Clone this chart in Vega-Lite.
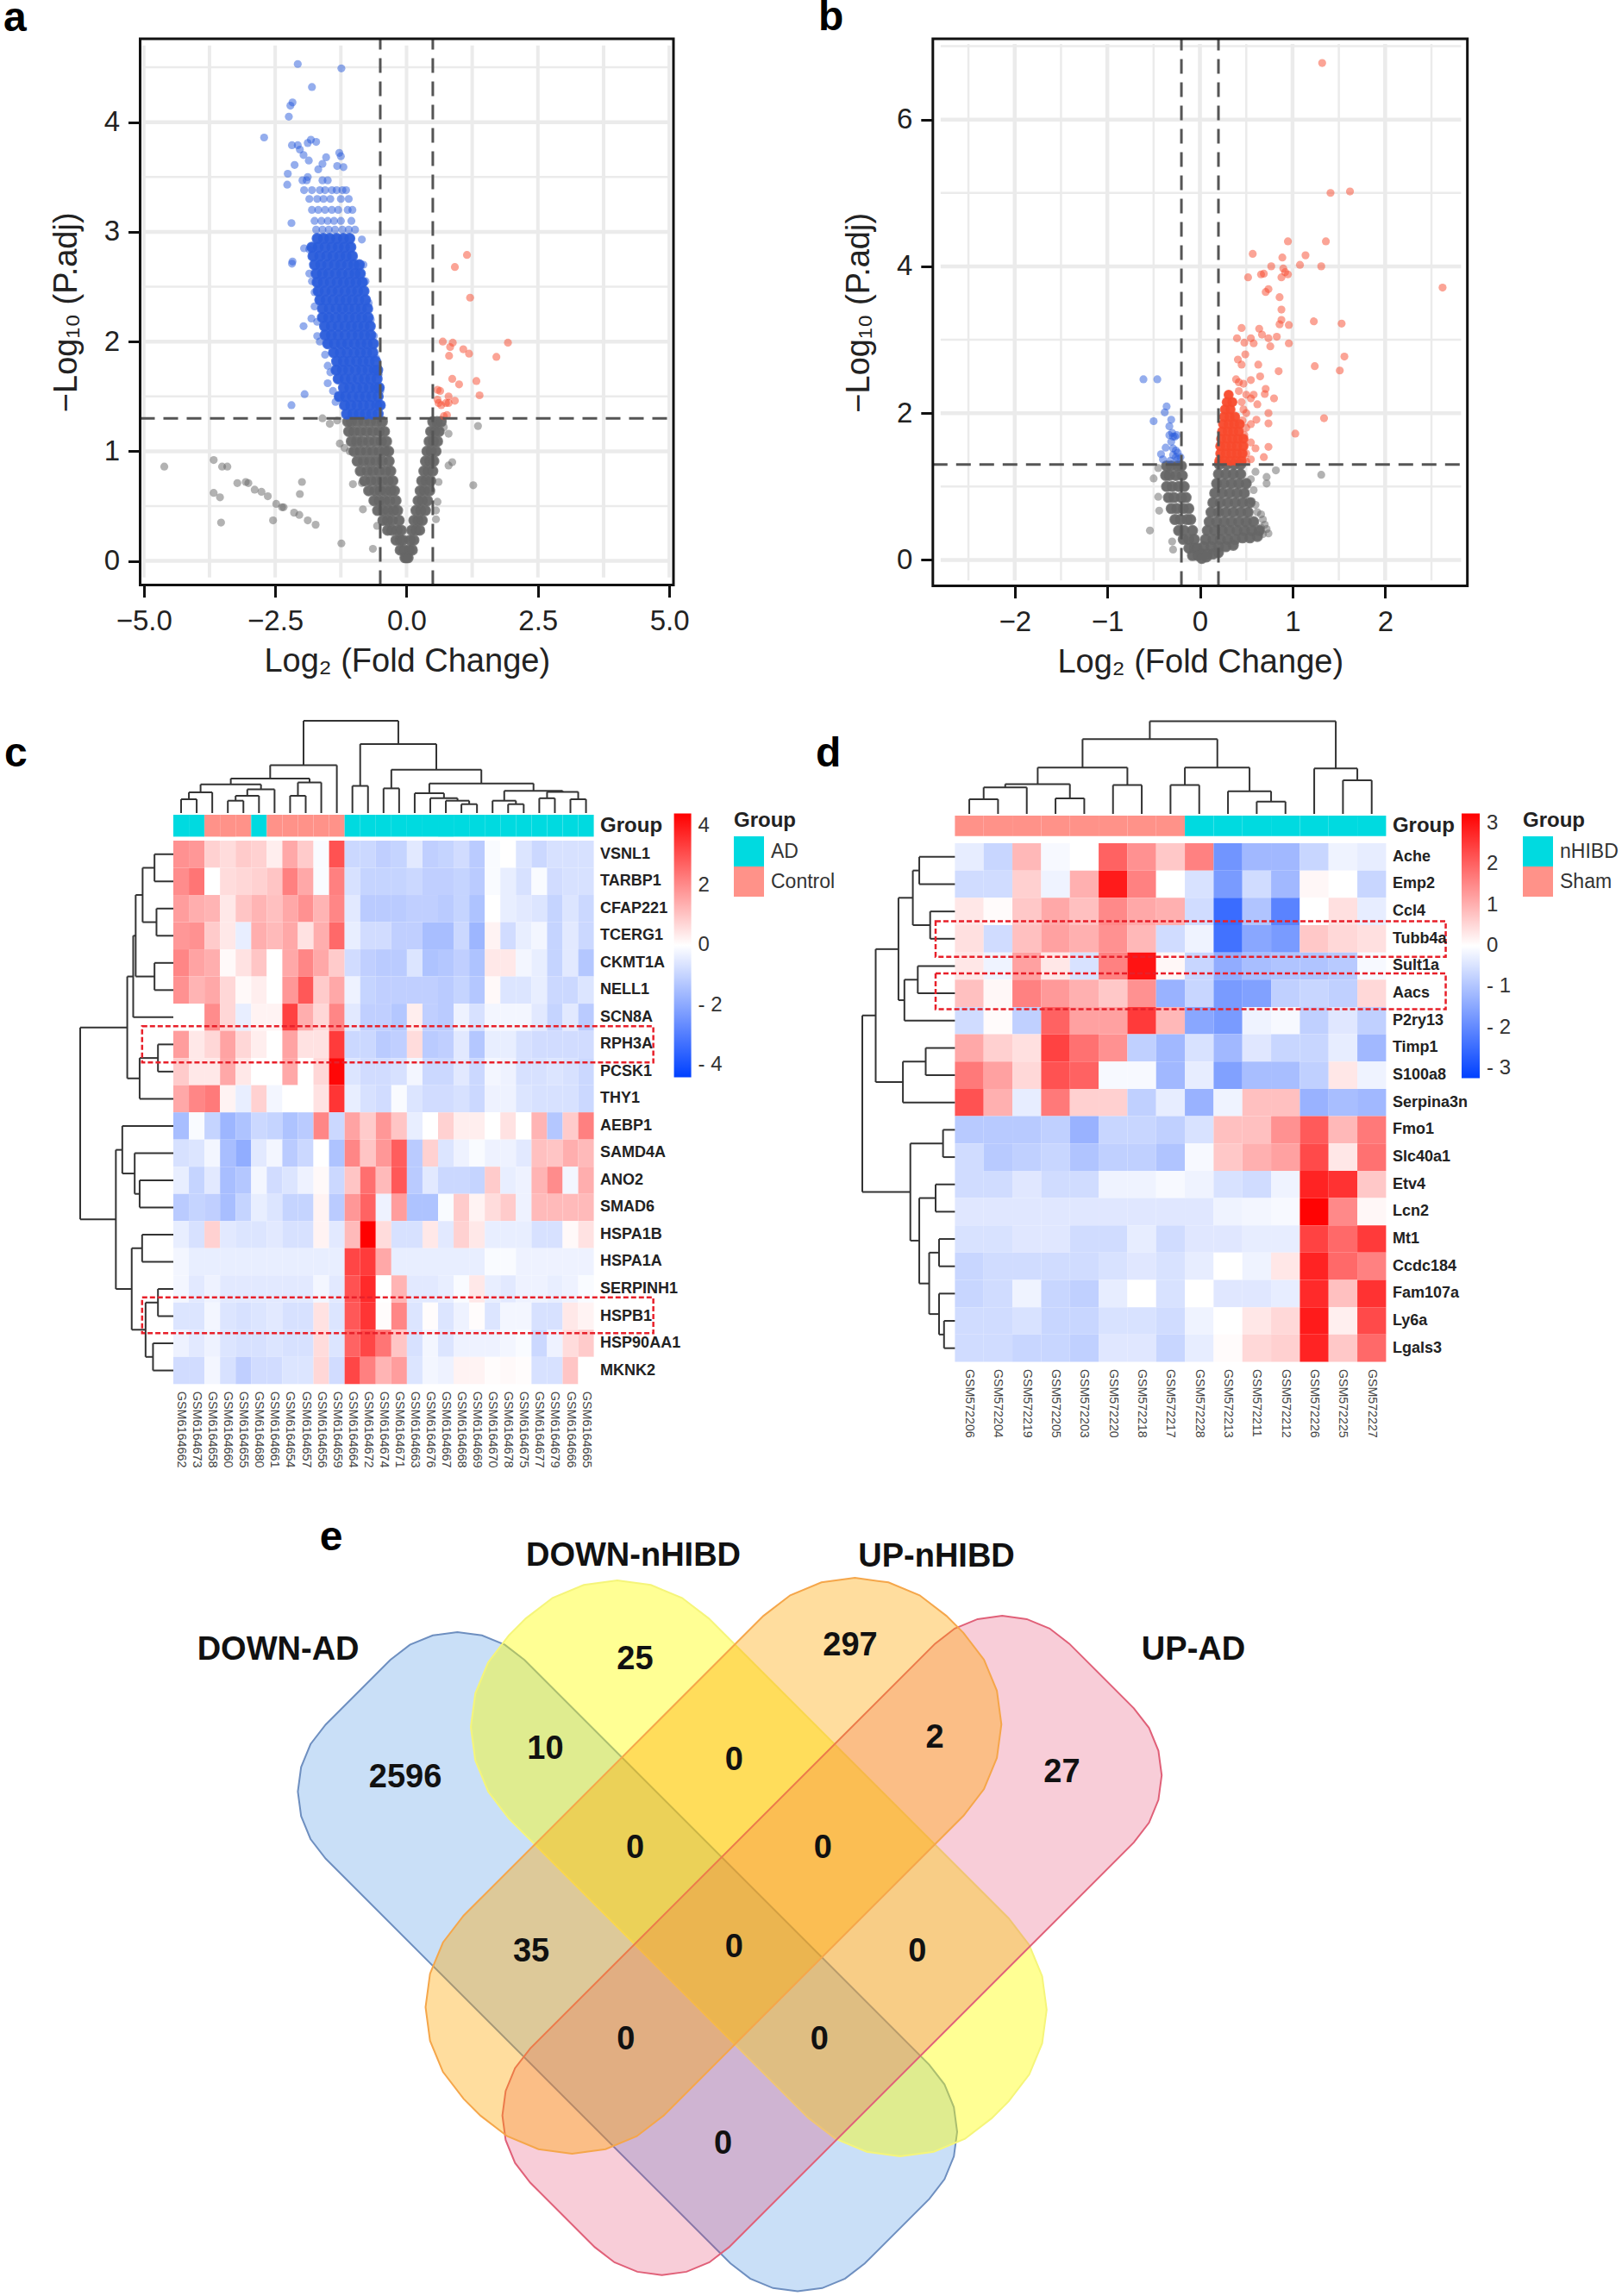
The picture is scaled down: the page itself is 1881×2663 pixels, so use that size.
{"$schema":"https://vega.github.io/schema/vega-lite/v6.json","width":1881,"height":2663,"autosize":{"type":"none"},"padding":0,"background":"white","config":{"view":{"stroke":null},"font":"Liberation Sans","axis":{"grid":false}},
"datasets":{
"a_down":[{"x":-2.07,"y":4.53},{"x":-1.24,"y":4.49},{"x":-1.8,"y":4.32},{"x":-2.17,"y":4.18},{"x":-2.21,"y":4.15},{"x":-2.24,"y":4.05},{"x":-2.71,"y":3.86},{"x":-2.18,"y":3.79},{"x":-2.07,"y":3.79},{"x":-1.88,"y":3.81},{"x":-1.82,"y":3.84},{"x":-1.72,"y":3.82},{"x":-2.03,"y":3.75},{"x":-1.96,"y":3.7},{"x":-1.86,"y":3.65},{"x":-1.28,"y":3.72},{"x":-1.25,"y":3.69},{"x":-1.53,"y":3.68},{"x":-1.6,"y":3.62},{"x":-1.68,"y":3.57},{"x":-1.32,"y":3.6},{"x":-1.2,"y":3.59},{"x":-2.13,"y":3.61},{"x":-2.26,"y":3.53},{"x":-2.27,"y":3.43},{"x":-2.19,"y":3.08},{"x":-2.17,"y":2.73},{"x":-2.18,"y":2.71},{"x":-1.96,"y":2.14},{"x":-1.81,"y":2.21},{"x":-1.94,"y":1.52},{"x":-2.19,"y":1.42},{"x":-1.72,"y":3.02},{"x":-1.6,"y":3.02},{"x":-1.48,"y":3.02},{"x":-1.36,"y":3.02},{"x":-1.22,"y":3.02},{"x":-1.1,"y":3.02},{"x":-0.98,"y":3.02},{"x":-1.75,"y":3.1},{"x":-1.62,"y":3.1},{"x":-1.5,"y":3.1},{"x":-1.38,"y":3.1},{"x":-1.25,"y":3.1},{"x":-1.05,"y":3.1},{"x":-1.8,"y":3.2},{"x":-1.68,"y":3.2},{"x":-1.55,"y":3.2},{"x":-1.42,"y":3.2},{"x":-1.3,"y":3.2},{"x":-1.12,"y":3.2},{"x":-1.03,"y":3.2},{"x":-1.85,"y":3.3},{"x":-1.7,"y":3.3},{"x":-1.58,"y":3.3},{"x":-1.45,"y":3.3},{"x":-1.25,"y":3.3},{"x":-1.1,"y":3.3},{"x":-1.95,"y":3.38},{"x":-1.8,"y":3.38},{"x":-1.65,"y":3.38},{"x":-1.55,"y":3.38},{"x":-1.42,"y":3.38},{"x":-1.33,"y":3.38},{"x":-1.22,"y":3.38},{"x":-1.15,"y":3.38},{"x":-1.98,"y":3.47},{"x":-1.9,"y":3.47},{"x":-1.88,"y":3.5},{"x":-1.6,"y":3.47},{"x":-1.5,"y":3.47},{"x":-1.95,"y":2.85},{"x":-1.85,"y":2.84},{"x":-1.85,"y":2.62},{"x":-1.8,"y":2.55},{"x":-1.75,"y":2.45},{"x":-1.75,"y":2.32},{"x":-1.7,"y":2.18},{"x":-1.7,"y":2.05},{"x":-1.65,"y":2},{"x":-1.55,"y":1.88},{"x":-1.5,"y":1.78},{"x":-1.5,"y":1.62},{"x":-1.45,"y":1.72},{"x":-1.4,"y":1.55},{"x":-1.35,"y":1.45},{"x":-0.85,"y":2.93},{"x":-0.82,"y":2.7},{"x":-0.78,"y":2.55},{"x":-0.72,"y":2.35},{"x":-0.68,"y":2.2},{"x":-0.62,"y":2.05},{"x":-0.58,"y":1.85},{"x":-0.53,"y":1.7},{"x":-0.5,"y":1.55}],
"a_core":[{"x":-1.14,"y":1.34},{"x":-1.02,"y":1.34},{"x":-0.9,"y":1.34},{"x":-0.78,"y":1.34},{"x":-0.66,"y":1.34},{"x":-0.54,"y":1.34},{"x":-1.18,"y":1.42},{"x":-1.06,"y":1.42},{"x":-0.94,"y":1.42},{"x":-0.82,"y":1.42},{"x":-0.7,"y":1.42},{"x":-0.57,"y":1.42},{"x":-0.5,"y":1.42},{"x":-1.28,"y":1.5},{"x":-1.16,"y":1.5},{"x":-1.03,"y":1.5},{"x":-0.9,"y":1.5},{"x":-0.78,"y":1.5},{"x":-0.66,"y":1.5},{"x":-0.54,"y":1.5},{"x":-1.2,"y":1.58},{"x":-1.08,"y":1.58},{"x":-0.95,"y":1.58},{"x":-0.83,"y":1.58},{"x":-0.71,"y":1.58},{"x":-0.59,"y":1.58},{"x":-0.52,"y":1.58},{"x":-1.3,"y":1.66},{"x":-1.17,"y":1.66},{"x":-1.05,"y":1.66},{"x":-0.92,"y":1.66},{"x":-0.8,"y":1.66},{"x":-0.68,"y":1.66},{"x":-0.56,"y":1.66},{"x":-1.34,"y":1.74},{"x":-1.22,"y":1.74},{"x":-1.1,"y":1.74},{"x":-0.97,"y":1.74},{"x":-0.85,"y":1.74},{"x":-0.73,"y":1.74},{"x":-0.61,"y":1.74},{"x":-0.55,"y":1.74},{"x":-1.33,"y":1.82},{"x":-1.2,"y":1.82},{"x":-1.08,"y":1.82},{"x":-0.95,"y":1.82},{"x":-0.83,"y":1.82},{"x":-0.71,"y":1.82},{"x":-0.59,"y":1.82},{"x":-1.39,"y":1.9},{"x":-1.26,"y":1.9},{"x":-1.13,"y":1.9},{"x":-1,"y":1.9},{"x":-0.88,"y":1.9},{"x":-0.76,"y":1.9},{"x":-0.64,"y":1.9},{"x":-1.5,"y":1.98},{"x":-1.37,"y":1.98},{"x":-1.24,"y":1.98},{"x":-1.12,"y":1.98},{"x":-0.99,"y":1.98},{"x":-0.87,"y":1.98},{"x":-0.75,"y":1.98},{"x":-0.63,"y":1.98},{"x":-1.55,"y":2.06},{"x":-1.43,"y":2.06},{"x":-1.3,"y":2.06},{"x":-1.17,"y":2.06},{"x":-1.04,"y":2.06},{"x":-0.92,"y":2.06},{"x":-0.8,"y":2.06},{"x":-0.68,"y":2.06},{"x":-1.56,"y":2.14},{"x":-1.43,"y":2.14},{"x":-1.3,"y":2.14},{"x":-1.17,"y":2.14},{"x":-1.05,"y":2.14},{"x":-0.93,"y":2.14},{"x":-0.81,"y":2.14},{"x":-0.69,"y":2.14},{"x":-1.6,"y":2.22},{"x":-1.48,"y":2.22},{"x":-1.35,"y":2.22},{"x":-1.22,"y":2.22},{"x":-1.09,"y":2.22},{"x":-0.97,"y":2.22},{"x":-0.85,"y":2.22},{"x":-0.73,"y":2.22},{"x":-1.6,"y":2.3},{"x":-1.47,"y":2.3},{"x":-1.34,"y":2.3},{"x":-1.22,"y":2.3},{"x":-1.1,"y":2.3},{"x":-0.98,"y":2.3},{"x":-0.86,"y":2.3},{"x":-0.74,"y":2.3},{"x":-1.65,"y":2.38},{"x":-1.53,"y":2.38},{"x":-1.4,"y":2.38},{"x":-1.27,"y":2.38},{"x":-1.15,"y":2.38},{"x":-1.03,"y":2.38},{"x":-0.91,"y":2.38},{"x":-0.78,"y":2.38},{"x":-1.68,"y":2.46},{"x":-1.55,"y":2.46},{"x":-1.42,"y":2.46},{"x":-1.3,"y":2.46},{"x":-1.17,"y":2.46},{"x":-1.05,"y":2.46},{"x":-0.93,"y":2.46},{"x":-0.81,"y":2.46},{"x":-1.7,"y":2.54},{"x":-1.58,"y":2.54},{"x":-1.45,"y":2.54},{"x":-1.32,"y":2.54},{"x":-1.2,"y":2.54},{"x":-1.08,"y":2.54},{"x":-0.96,"y":2.54},{"x":-0.84,"y":2.54},{"x":-1.72,"y":2.62},{"x":-1.6,"y":2.62},{"x":-1.48,"y":2.62},{"x":-1.35,"y":2.62},{"x":-1.23,"y":2.62},{"x":-1.1,"y":2.62},{"x":-0.98,"y":2.62},{"x":-0.88,"y":2.62},{"x":-1.75,"y":2.7},{"x":-1.63,"y":2.7},{"x":-1.5,"y":2.7},{"x":-1.37,"y":2.7},{"x":-1.25,"y":2.7},{"x":-1.12,"y":2.7},{"x":-1,"y":2.7},{"x":-0.9,"y":2.7},{"x":-1.78,"y":2.78},{"x":-1.65,"y":2.78},{"x":-1.52,"y":2.78},{"x":-1.4,"y":2.78},{"x":-1.27,"y":2.78},{"x":-1.15,"y":2.78},{"x":-1.03,"y":2.78},{"x":-1.8,"y":2.86},{"x":-1.68,"y":2.86},{"x":-1.55,"y":2.86},{"x":-1.42,"y":2.86},{"x":-1.3,"y":2.86},{"x":-1.18,"y":2.86},{"x":-1.06,"y":2.86},{"x":-1.7,"y":2.94},{"x":-1.58,"y":2.94},{"x":-1.46,"y":2.94},{"x":-1.33,"y":2.94},{"x":-1.2,"y":2.94},{"x":-1.08,"y":2.94}],
"a_up":[{"x":1.15,"y":2.79},{"x":0.92,"y":2.68},{"x":1.21,"y":2.4},{"x":0.69,"y":2},{"x":0.88,"y":1.99},{"x":0.83,"y":1.95},{"x":1.08,"y":1.93},{"x":1.19,"y":1.89},{"x":1.93,"y":1.99},{"x":1.71,"y":1.86},{"x":0.81,"y":1.87},{"x":0.87,"y":1.66},{"x":1,"y":1.61},{"x":1.33,"y":1.64},{"x":1.39,"y":1.51},{"x":0.59,"y":1.56},{"x":0.64,"y":1.55},{"x":0.8,"y":1.5},{"x":0.92,"y":1.46},{"x":0.8,"y":1.44},{"x":0.61,"y":1.44},{"x":0.66,"y":1.42},{"x":0.75,"y":1.44},{"x":0.59,"y":1.47},{"x":0.71,"y":1.32},{"x":0.77,"y":1.33}],
"a_ns":[{"x":-4.61,"y":0.86},{"x":-3.67,"y":0.92},{"x":-3.51,"y":0.86},{"x":-3.41,"y":0.86},{"x":-3.22,"y":0.71},{"x":-3.06,"y":0.72},{"x":-3.01,"y":0.71},{"x":-2.89,"y":0.65},{"x":-2.76,"y":0.63},{"x":-2.64,"y":0.59},{"x":-2.48,"y":0.52},{"x":-2.37,"y":0.49},{"x":-2.34,"y":0.49},{"x":-2.14,"y":0.44},{"x":-2.04,"y":0.42},{"x":-1.88,"y":0.37},{"x":-1.73,"y":0.33},{"x":-3.67,"y":0.62},{"x":-3.55,"y":0.58},{"x":-3.53,"y":0.35},{"x":-2.54,"y":0.37},{"x":-1.99,"y":0.72},{"x":-2.03,"y":0.61},{"x":-1.24,"y":0.16},{"x":-0.64,"y":0.11},{"x":-1.02,"y":0.7},{"x":-0.85,"y":0.71},{"x":-0.83,"y":0.47},{"x":-0.56,"y":0.32},{"x":-1.27,"y":1.07},{"x":-1.18,"y":1.03},{"x":-1.08,"y":1},{"x":-1.6,"y":1.3},{"x":-1.46,"y":1.25},{"x":-1.32,"y":1.28},{"x":1.36,"y":1.23},{"x":1.27,"y":0.69},{"x":0.87,"y":0.9},{"x":0.8,"y":0.87},{"x":0.8,"y":1.16},{"x":0.71,"y":1.22},{"x":0.56,"y":1.24},{"x":0.56,"y":0.38},{"x":0.56,"y":0.46},{"x":0.59,"y":0.54},{"x":0.61,"y":0.72}],
"a_nscore":[{"x":-1.12,"y":1.27},{"x":-1.05,"y":1.27},{"x":-0.93,"y":1.27},{"x":-0.81,"y":1.27},{"x":-0.69,"y":1.27},{"x":-0.57,"y":1.27},{"x":-0.46,"y":1.27},{"x":-1.1,"y":1.18},{"x":-1,"y":1.18},{"x":-0.88,"y":1.18},{"x":-0.76,"y":1.18},{"x":-0.64,"y":1.18},{"x":-0.52,"y":1.18},{"x":-0.42,"y":1.18},{"x":-1.05,"y":1.09},{"x":-0.95,"y":1.09},{"x":-0.84,"y":1.09},{"x":-0.72,"y":1.09},{"x":-0.6,"y":1.09},{"x":-0.48,"y":1.09},{"x":-0.38,"y":1.09},{"x":-1,"y":1},{"x":-0.88,"y":1},{"x":-0.76,"y":1},{"x":-0.64,"y":1},{"x":-0.52,"y":1},{"x":-0.41,"y":1},{"x":-0.34,"y":1},{"x":-0.94,"y":0.91},{"x":-0.82,"y":0.91},{"x":-0.7,"y":0.91},{"x":-0.58,"y":0.91},{"x":-0.46,"y":0.91},{"x":-0.33,"y":0.91},{"x":-0.88,"y":0.82},{"x":-0.75,"y":0.82},{"x":-0.64,"y":0.82},{"x":-0.52,"y":0.82},{"x":-0.4,"y":0.82},{"x":-0.3,"y":0.82},{"x":-0.8,"y":0.73},{"x":-0.68,"y":0.73},{"x":-0.57,"y":0.73},{"x":-0.46,"y":0.73},{"x":-0.35,"y":0.73},{"x":-0.26,"y":0.73},{"x":-0.72,"y":0.64},{"x":-0.6,"y":0.64},{"x":-0.5,"y":0.64},{"x":-0.4,"y":0.64},{"x":-0.3,"y":0.64},{"x":-0.23,"y":0.64},{"x":-0.62,"y":0.55},{"x":-0.52,"y":0.55},{"x":-0.42,"y":0.55},{"x":-0.32,"y":0.55},{"x":-0.2,"y":0.55},{"x":-0.55,"y":0.46},{"x":-0.45,"y":0.46},{"x":-0.35,"y":0.46},{"x":-0.25,"y":0.46},{"x":-0.17,"y":0.46},{"x":-0.45,"y":0.37},{"x":-0.36,"y":0.37},{"x":-0.27,"y":0.37},{"x":-0.14,"y":0.37},{"x":-0.36,"y":0.28},{"x":-0.28,"y":0.28},{"x":-0.18,"y":0.28},{"x":-0.1,"y":0.28},{"x":-0.2,"y":0.19},{"x":-0.12,"y":0.19},{"x":-0.07,"y":0.19},{"x":-0.12,"y":0.1},{"x":-0.05,"y":0.1},{"x":-0.03,"y":0.03},{"x":0,"y":0.03},{"x":0.03,"y":0.03},{"x":0.5,"y":1.27},{"x":0.58,"y":1.27},{"x":0.66,"y":1.27},{"x":0.46,"y":1.18},{"x":0.54,"y":1.18},{"x":0.62,"y":1.18},{"x":0.43,"y":1.09},{"x":0.51,"y":1.09},{"x":0.59,"y":1.09},{"x":0.39,"y":1},{"x":0.47,"y":1},{"x":0.56,"y":1},{"x":0.36,"y":0.91},{"x":0.44,"y":0.91},{"x":0.52,"y":0.91},{"x":0.33,"y":0.82},{"x":0.41,"y":0.82},{"x":0.5,"y":0.82},{"x":0.29,"y":0.73},{"x":0.37,"y":0.73},{"x":0.46,"y":0.73},{"x":0.26,"y":0.64},{"x":0.34,"y":0.64},{"x":0.44,"y":0.64},{"x":0.22,"y":0.55},{"x":0.3,"y":0.55},{"x":0.4,"y":0.55},{"x":0.18,"y":0.46},{"x":0.27,"y":0.46},{"x":0.36,"y":0.46},{"x":0.14,"y":0.37},{"x":0.22,"y":0.37},{"x":0.3,"y":0.37},{"x":0.1,"y":0.28},{"x":0.18,"y":0.28},{"x":0.25,"y":0.28},{"x":0.07,"y":0.19},{"x":0.14,"y":0.19},{"x":0.05,"y":0.1},{"x":0.11,"y":0.1}],
"b_down":[{"x":-0.61,"y":2.46},{"x":-0.46,"y":2.46},{"x":-0.36,"y":2.09},{"x":-0.38,"y":2.01},{"x":-0.31,"y":1.91},{"x":-0.5,"y":1.89},{"x":-0.33,"y":1.82},{"x":-0.3,"y":1.73},{"x":-0.29,"y":1.68},{"x":-0.33,"y":1.7},{"x":-0.31,"y":1.61},{"x":-0.37,"y":1.53},{"x":-0.29,"y":1.52},{"x":-0.42,"y":1.44},{"x":-0.26,"y":1.49},{"x":-0.24,"y":1.46},{"x":-0.29,"y":1.43},{"x":-0.26,"y":1.4},{"x":-0.32,"y":1.35},{"x":-0.24,"y":1.37},{"x":-0.4,"y":1.37},{"x":-0.27,"y":1.68},{"x":-0.25,"y":1.7},{"x":-0.21,"y":1.4}],
"b_up":[{"x":1.32,"y":6.77},{"x":1.41,"y":5},{"x":1.62,"y":5.02},{"x":0.95,"y":4.34},{"x":1.36,"y":4.34},{"x":1.14,"y":4.15},{"x":0.57,"y":4.17},{"x":0.89,"y":4.12},{"x":1.08,"y":4.02},{"x":1.31,"y":4},{"x":0.77,"y":4},{"x":0.9,"y":3.97},{"x":0.92,"y":3.92},{"x":0.95,"y":3.89},{"x":0.88,"y":3.85},{"x":0.52,"y":3.85},{"x":0.66,"y":3.89},{"x":0.69,"y":3.9},{"x":0.74,"y":3.69},{"x":0.71,"y":3.65},{"x":2.62,"y":3.71},{"x":0.86,"y":3.58},{"x":0.88,"y":3.41},{"x":0.88,"y":3.27},{"x":1.23,"y":3.25},{"x":1.53,"y":3.22},{"x":0.86,"y":3.21},{"x":0.96,"y":3.2},{"x":0.45,"y":3.16},{"x":0.64,"y":3.15},{"x":0.67,"y":3.07},{"x":0.4,"y":3.02},{"x":0.55,"y":3.02},{"x":0.74,"y":3.02},{"x":0.83,"y":3.04},{"x":0.48,"y":2.96},{"x":0.58,"y":2.95},{"x":0.76,"y":2.91},{"x":0.96,"y":2.95},{"x":0.49,"y":2.8},{"x":1.56,"y":2.77},{"x":0.41,"y":2.73},{"x":0.45,"y":2.66},{"x":0.63,"y":2.66},{"x":1.24,"y":2.64},{"x":1.51,"y":2.58},{"x":0.85,"y":2.57},{"x":0.65,"y":2.5},{"x":1.34,"y":1.93},{"x":1.03,"y":1.72},{"x":0.74,"y":2},{"x":0.74,"y":1.86},{"x":0.8,"y":2.2},{"x":0.71,"y":2.33},{"x":0.7,"y":2.26},{"x":0.62,"y":2.12},{"x":0.61,"y":1.91},{"x":0.55,"y":2.45},{"x":0.39,"y":2.46},{"x":0.6,"y":1.52},{"x":0.74,"y":1.54},{"x":0.69,"y":1.4},{"x":0.55,"y":1.37},{"x":0.5,"y":1.34},{"x":0.5,"y":1.45},{"x":0.55,"y":1.6},{"x":0.48,"y":1.7},{"x":0.5,"y":1.8},{"x":0.55,"y":1.85},{"x":0.46,"y":1.9},{"x":0.5,"y":2},{"x":0.47,"y":2.05},{"x":0.45,"y":2.15},{"x":0.5,"y":2.25},{"x":0.55,"y":2.2},{"x":0.58,"y":2.25},{"x":0.42,"y":2.3},{"x":0.47,"y":2.4},{"x":0.42,"y":2.42}],
"b_core":[{"x":0.21,"y":1.35},{"x":0.27,"y":1.35},{"x":0.33,"y":1.35},{"x":0.39,"y":1.35},{"x":0.45,"y":1.35},{"x":0.22,"y":1.45},{"x":0.28,"y":1.45},{"x":0.34,"y":1.45},{"x":0.4,"y":1.45},{"x":0.46,"y":1.45},{"x":0.22,"y":1.55},{"x":0.28,"y":1.55},{"x":0.34,"y":1.55},{"x":0.4,"y":1.55},{"x":0.47,"y":1.55},{"x":0.23,"y":1.65},{"x":0.29,"y":1.65},{"x":0.35,"y":1.65},{"x":0.41,"y":1.65},{"x":0.47,"y":1.65},{"x":0.24,"y":1.75},{"x":0.3,"y":1.75},{"x":0.36,"y":1.75},{"x":0.42,"y":1.75},{"x":0.25,"y":1.85},{"x":0.31,"y":1.85},{"x":0.37,"y":1.85},{"x":0.43,"y":1.85},{"x":0.26,"y":1.95},{"x":0.32,"y":1.95},{"x":0.38,"y":1.95},{"x":0.27,"y":2.05},{"x":0.33,"y":2.05},{"x":0.29,"y":2.15},{"x":0.35,"y":2.15},{"x":0.31,"y":2.25}],
"b_ns":[{"x":-0.54,"y":0.4},{"x":-0.29,"y":0.14},{"x":-0.3,"y":0.25},{"x":-0.44,"y":0.67},{"x":-0.45,"y":0.86},{"x":-0.5,"y":1.11},{"x":-0.45,"y":1.25},{"x":1.31,"y":1.16},{"x":0.82,"y":1.22},{"x":0.72,"y":1.13},{"x":0.72,"y":1.04},{"x":0.6,"y":1.2},{"x":0.55,"y":1.1},{"x":0.58,"y":0.95},{"x":0.56,"y":0.8},{"x":0.6,"y":0.75},{"x":0.62,"y":0.65},{"x":0.66,"y":0.62},{"x":0.68,"y":0.55},{"x":0.7,"y":0.48},{"x":0.72,"y":0.42},{"x":0.74,"y":0.36},{"x":0.68,"y":0.35},{"x":0.66,"y":0.44}],
"b_nscore":[{"x":-0.36,"y":1.28},{"x":-0.31,"y":1.28},{"x":-0.24,"y":1.28},{"x":-0.2,"y":1.28},{"x":-0.37,"y":1.15},{"x":-0.33,"y":1.15},{"x":-0.26,"y":1.15},{"x":-0.19,"y":1.15},{"x":-0.36,"y":1},{"x":-0.3,"y":1},{"x":-0.23,"y":1},{"x":-0.17,"y":1},{"x":-0.34,"y":0.85},{"x":-0.28,"y":0.85},{"x":-0.2,"y":0.85},{"x":-0.15,"y":0.85},{"x":-0.31,"y":0.7},{"x":-0.25,"y":0.7},{"x":-0.18,"y":0.7},{"x":-0.12,"y":0.7},{"x":-0.27,"y":0.55},{"x":-0.21,"y":0.55},{"x":-0.14,"y":0.55},{"x":-0.1,"y":0.55},{"x":-0.23,"y":0.4},{"x":-0.17,"y":0.4},{"x":-0.08,"y":0.4},{"x":-0.18,"y":0.28},{"x":-0.12,"y":0.28},{"x":-0.06,"y":0.28},{"x":-0.12,"y":0.16},{"x":-0.06,"y":0.16},{"x":-0.03,"y":0.16},{"x":-0.08,"y":0.06},{"x":-0.02,"y":0.06},{"x":0.21,"y":1.3},{"x":0.29,"y":1.3},{"x":0.37,"y":1.3},{"x":0.44,"y":1.3},{"x":0.2,"y":1.17},{"x":0.28,"y":1.17},{"x":0.36,"y":1.17},{"x":0.44,"y":1.17},{"x":0.18,"y":1.04},{"x":0.26,"y":1.04},{"x":0.34,"y":1.04},{"x":0.42,"y":1.04},{"x":0.5,"y":1.04},{"x":0.16,"y":0.91},{"x":0.24,"y":0.91},{"x":0.32,"y":0.91},{"x":0.4,"y":0.91},{"x":0.48,"y":0.91},{"x":0.14,"y":0.78},{"x":0.22,"y":0.78},{"x":0.3,"y":0.78},{"x":0.38,"y":0.78},{"x":0.46,"y":0.78},{"x":0.54,"y":0.78},{"x":0.12,"y":0.65},{"x":0.2,"y":0.65},{"x":0.28,"y":0.65},{"x":0.36,"y":0.65},{"x":0.44,"y":0.65},{"x":0.52,"y":0.65},{"x":0.1,"y":0.52},{"x":0.18,"y":0.52},{"x":0.26,"y":0.52},{"x":0.34,"y":0.52},{"x":0.42,"y":0.52},{"x":0.5,"y":0.52},{"x":0.58,"y":0.52},{"x":0.08,"y":0.4},{"x":0.16,"y":0.4},{"x":0.24,"y":0.4},{"x":0.32,"y":0.4},{"x":0.4,"y":0.4},{"x":0.48,"y":0.4},{"x":0.56,"y":0.4},{"x":0.64,"y":0.4},{"x":0.06,"y":0.28},{"x":0.14,"y":0.28},{"x":0.22,"y":0.28},{"x":0.3,"y":0.28},{"x":0.38,"y":0.28},{"x":0.46,"y":0.3},{"x":0.54,"y":0.3},{"x":0.62,"y":0.32},{"x":0.04,"y":0.18},{"x":0.12,"y":0.18},{"x":0.2,"y":0.18},{"x":0.28,"y":0.18},{"x":0.36,"y":0.2},{"x":0.02,"y":0.08},{"x":0.08,"y":0.08},{"x":0.14,"y":0.08},{"x":0.2,"y":0.1},{"x":0.02,"y":0.02},{"x":0.07,"y":0.04}],
"heat_c":[{"g":"VSNL1","s":"662","v":1.9},{"g":"VSNL1","s":"673","v":1.8},{"g":"VSNL1","s":"658","v":0.8},{"g":"VSNL1","s":"660","v":0.6},{"g":"VSNL1","s":"655","v":0.9},{"g":"VSNL1","s":"680","v":0.8},{"g":"VSNL1","s":"661","v":0.3},{"g":"VSNL1","s":"654","v":1.5},{"g":"VSNL1","s":"657","v":0.9},{"g":"VSNL1","s":"656","v":-0.1},{"g":"VSNL1","s":"659","v":3},{"g":"VSNL1","s":"664","v":-0.9},{"g":"VSNL1","s":"672","v":-0.9},{"g":"VSNL1","s":"674","v":-1.1},{"g":"VSNL1","s":"671","v":-1},{"g":"VSNL1","s":"663","v":-0.5},{"g":"VSNL1","s":"676","v":-1.1},{"g":"VSNL1","s":"667","v":-1},{"g":"VSNL1","s":"668","v":-0.8},{"g":"VSNL1","s":"669","v":-1.2},{"g":"VSNL1","s":"670","v":-0.1},{"g":"VSNL1","s":"678","v":0},{"g":"VSNL1","s":"675","v":-0.6},{"g":"VSNL1","s":"677","v":-0.9},{"g":"VSNL1","s":"679","v":-0.7},{"g":"VSNL1","s":"666","v":-0.7},{"g":"VSNL1","s":"665","v":-0.7},
{"g":"TARBP1","s":"662","v":2},{"g":"TARBP1","s":"673","v":2.4},{"g":"TARBP1","s":"658","v":0},{"g":"TARBP1","s":"660","v":0.6},{"g":"TARBP1","s":"655","v":0.7},{"g":"TARBP1","s":"680","v":0.8},{"g":"TARBP1","s":"661","v":1},{"g":"TARBP1","s":"654","v":2.2},{"g":"TARBP1","s":"657","v":1.5},{"g":"TARBP1","s":"656","v":-0.1},{"g":"TARBP1","s":"659","v":2.2},{"g":"TARBP1","s":"664","v":-0.7},{"g":"TARBP1","s":"672","v":-1},{"g":"TARBP1","s":"674","v":-1},{"g":"TARBP1","s":"671","v":-1},{"g":"TARBP1","s":"663","v":-0.9},{"g":"TARBP1","s":"676","v":-1.1},{"g":"TARBP1","s":"667","v":-1.1},{"g":"TARBP1","s":"668","v":-1},{"g":"TARBP1","s":"669","v":-1.2},{"g":"TARBP1","s":"670","v":-0.1},{"g":"TARBP1","s":"678","v":-0.4},{"g":"TARBP1","s":"675","v":-0.7},{"g":"TARBP1","s":"677","v":-0.1},{"g":"TARBP1","s":"679","v":-0.8},{"g":"TARBP1","s":"666","v":-0.7},{"g":"TARBP1","s":"665","v":-0.7},
{"g":"CFAP221","s":"662","v":1.7},{"g":"CFAP221","s":"673","v":1.4},{"g":"CFAP221","s":"658","v":1.3},{"g":"CFAP221","s":"660","v":0.4},{"g":"CFAP221","s":"655","v":1},{"g":"CFAP221","s":"680","v":1.3},{"g":"CFAP221","s":"661","v":1.1},{"g":"CFAP221","s":"654","v":1.5},{"g":"CFAP221","s":"657","v":1.9},{"g":"CFAP221","s":"656","v":1.3},{"g":"CFAP221","s":"659","v":2.1},{"g":"CFAP221","s":"664","v":-0.5},{"g":"CFAP221","s":"672","v":-1.2},{"g":"CFAP221","s":"674","v":-1.2},{"g":"CFAP221","s":"671","v":-1.2},{"g":"CFAP221","s":"663","v":-1.1},{"g":"CFAP221","s":"676","v":-1.1},{"g":"CFAP221","s":"667","v":-1.2},{"g":"CFAP221","s":"668","v":-1},{"g":"CFAP221","s":"669","v":-1.4},{"g":"CFAP221","s":"670","v":0},{"g":"CFAP221","s":"678","v":-0.4},{"g":"CFAP221","s":"675","v":-0.5},{"g":"CFAP221","s":"677","v":-0.6},{"g":"CFAP221","s":"679","v":-1},{"g":"CFAP221","s":"666","v":-0.6},{"g":"CFAP221","s":"665","v":-0.9},
{"g":"TCERG1","s":"662","v":1.8},{"g":"TCERG1","s":"673","v":1.9},{"g":"TCERG1","s":"658","v":0.9},{"g":"TCERG1","s":"660","v":0.4},{"g":"TCERG1","s":"655","v":-0.4},{"g":"TCERG1","s":"680","v":1.4},{"g":"TCERG1","s":"661","v":1.2},{"g":"TCERG1","s":"654","v":1.5},{"g":"TCERG1","s":"657","v":0.5},{"g":"TCERG1","s":"656","v":1.4},{"g":"TCERG1","s":"659","v":2.6},{"g":"TCERG1","s":"664","v":-0.4},{"g":"TCERG1","s":"672","v":-0.8},{"g":"TCERG1","s":"674","v":-0.8},{"g":"TCERG1","s":"671","v":-1.1},{"g":"TCERG1","s":"663","v":-1.1},{"g":"TCERG1","s":"676","v":-1.5},{"g":"TCERG1","s":"667","v":-1.5},{"g":"TCERG1","s":"668","v":-0.9},{"g":"TCERG1","s":"669","v":-1.7},{"g":"TCERG1","s":"670","v":0.2},{"g":"TCERG1","s":"678","v":-0.8},{"g":"TCERG1","s":"675","v":-0.4},{"g":"TCERG1","s":"677","v":-0.2},{"g":"TCERG1","s":"679","v":-1},{"g":"TCERG1","s":"666","v":-0.5},{"g":"TCERG1","s":"665","v":-0.9},
{"g":"CKMT1A","s":"662","v":2.1},{"g":"CKMT1A","s":"673","v":1.6},{"g":"CKMT1A","s":"658","v":1.4},{"g":"CKMT1A","s":"660","v":0.1},{"g":"CKMT1A","s":"655","v":0.5},{"g":"CKMT1A","s":"680","v":1},{"g":"CKMT1A","s":"661","v":0},{"g":"CKMT1A","s":"654","v":1.5},{"g":"CKMT1A","s":"657","v":2.1},{"g":"CKMT1A","s":"656","v":1.5},{"g":"CKMT1A","s":"659","v":0.9},{"g":"CKMT1A","s":"664","v":-0.8},{"g":"CKMT1A","s":"672","v":-1.1},{"g":"CKMT1A","s":"674","v":-1.2},{"g":"CKMT1A","s":"671","v":-1.2},{"g":"CKMT1A","s":"663","v":-0.6},{"g":"CKMT1A","s":"676","v":-1.4},{"g":"CKMT1A","s":"667","v":-1.3},{"g":"CKMT1A","s":"668","v":-1.1},{"g":"CKMT1A","s":"669","v":-1.4},{"g":"CKMT1A","s":"670","v":0.4},{"g":"CKMT1A","s":"678","v":0.4},{"g":"CKMT1A","s":"675","v":-0.2},{"g":"CKMT1A","s":"677","v":-0.4},{"g":"CKMT1A","s":"679","v":-1},{"g":"CKMT1A","s":"666","v":-0.5},{"g":"CKMT1A","s":"665","v":-1.3},
{"g":"NELL1","s":"662","v":1.9},{"g":"NELL1","s":"673","v":1.3},{"g":"NELL1","s":"658","v":1.5},{"g":"NELL1","s":"660","v":0.7},{"g":"NELL1","s":"655","v":0.1},{"g":"NELL1","s":"680","v":0.3},{"g":"NELL1","s":"661","v":0},{"g":"NELL1","s":"654","v":1.8},{"g":"NELL1","s":"657","v":2.9},{"g":"NELL1","s":"656","v":0.9},{"g":"NELL1","s":"659","v":1.5},{"g":"NELL1","s":"664","v":-0.3},{"g":"NELL1","s":"672","v":-1},{"g":"NELL1","s":"674","v":-1.1},{"g":"NELL1","s":"671","v":-1.1},{"g":"NELL1","s":"663","v":-1.1},{"g":"NELL1","s":"676","v":-1.1},{"g":"NELL1","s":"667","v":-1.2},{"g":"NELL1","s":"668","v":-1},{"g":"NELL1","s":"669","v":-1.3},{"g":"NELL1","s":"670","v":0.1},{"g":"NELL1","s":"678","v":-0.6},{"g":"NELL1","s":"675","v":-0.6},{"g":"NELL1","s":"677","v":-0.4},{"g":"NELL1","s":"679","v":-0.9},{"g":"NELL1","s":"666","v":-0.9},{"g":"NELL1","s":"665","v":-0.6},
{"g":"SCN8A","s":"662","v":0},{"g":"SCN8A","s":"673","v":0},{"g":"SCN8A","s":"658","v":2},{"g":"SCN8A","s":"660","v":0.7},{"g":"SCN8A","s":"655","v":-0.4},{"g":"SCN8A","s":"680","v":0.2},{"g":"SCN8A","s":"661","v":0.2},{"g":"SCN8A","s":"654","v":3.3},{"g":"SCN8A","s":"657","v":1.4},{"g":"SCN8A","s":"656","v":0.7},{"g":"SCN8A","s":"659","v":2.1},{"g":"SCN8A","s":"664","v":-0.5},{"g":"SCN8A","s":"672","v":-1.1},{"g":"SCN8A","s":"674","v":-1.1},{"g":"SCN8A","s":"671","v":-1.3},{"g":"SCN8A","s":"663","v":0.3},{"g":"SCN8A","s":"676","v":-1.1},{"g":"SCN8A","s":"667","v":-1.2},{"g":"SCN8A","s":"668","v":-0.3},{"g":"SCN8A","s":"669","v":-0.7},{"g":"SCN8A","s":"670","v":-0.2},{"g":"SCN8A","s":"678","v":-0.2},{"g":"SCN8A","s":"675","v":-0.2},{"g":"SCN8A","s":"677","v":-0.5},{"g":"SCN8A","s":"679","v":-1},{"g":"SCN8A","s":"666","v":-0.5},{"g":"SCN8A","s":"665","v":-1.2},
{"g":"RPH3A","s":"662","v":1.7},{"g":"RPH3A","s":"673","v":0.4},{"g":"RPH3A","s":"658","v":0.7},{"g":"RPH3A","s":"660","v":1.6},{"g":"RPH3A","s":"655","v":0.7},{"g":"RPH3A","s":"680","v":0.3},{"g":"RPH3A","s":"661","v":0},{"g":"RPH3A","s":"654","v":1.6},{"g":"RPH3A","s":"657","v":0.5},{"g":"RPH3A","s":"656","v":0.5},{"g":"RPH3A","s":"659","v":3.4},{"g":"RPH3A","s":"664","v":-0.9},{"g":"RPH3A","s":"672","v":-0.9},{"g":"RPH3A","s":"674","v":-1.2},{"g":"RPH3A","s":"671","v":-1.1},{"g":"RPH3A","s":"663","v":0.6},{"g":"RPH3A","s":"676","v":-1.2},{"g":"RPH3A","s":"667","v":-1.1},{"g":"RPH3A","s":"668","v":-0.5},{"g":"RPH3A","s":"669","v":-1.3},{"g":"RPH3A","s":"670","v":-0.4},{"g":"RPH3A","s":"678","v":-0.4},{"g":"RPH3A","s":"675","v":-0.7},{"g":"RPH3A","s":"677","v":-0.8},{"g":"RPH3A","s":"679","v":-0.8},{"g":"RPH3A","s":"666","v":-0.8},{"g":"RPH3A","s":"665","v":-0.8},
{"g":"PCSK1","s":"662","v":0.9},{"g":"PCSK1","s":"673","v":0.4},{"g":"PCSK1","s":"658","v":0.4},{"g":"PCSK1","s":"660","v":1.5},{"g":"PCSK1","s":"655","v":0.4},{"g":"PCSK1","s":"680","v":0},{"g":"PCSK1","s":"661","v":0},{"g":"PCSK1","s":"654","v":1.5},{"g":"PCSK1","s":"657","v":0},{"g":"PCSK1","s":"656","v":0.7},{"g":"PCSK1","s":"659","v":4.3},{"g":"PCSK1","s":"664","v":-0.6},{"g":"PCSK1","s":"672","v":-0.8},{"g":"PCSK1","s":"674","v":-0.8},{"g":"PCSK1","s":"671","v":-0.7},{"g":"PCSK1","s":"663","v":-0.2},{"g":"PCSK1","s":"676","v":-0.9},{"g":"PCSK1","s":"667","v":-0.9},{"g":"PCSK1","s":"668","v":-0.5},{"g":"PCSK1","s":"669","v":-0.9},{"g":"PCSK1","s":"670","v":-0.2},{"g":"PCSK1","s":"678","v":-0.3},{"g":"PCSK1","s":"675","v":-0.7},{"g":"PCSK1","s":"677","v":-0.7},{"g":"PCSK1","s":"679","v":-0.6},{"g":"PCSK1","s":"666","v":-0.7},{"g":"PCSK1","s":"665","v":-0.9},
{"g":"THY1","s":"662","v":1.5},{"g":"THY1","s":"673","v":2.1},{"g":"THY1","s":"658","v":2.3},{"g":"THY1","s":"660","v":0.2},{"g":"THY1","s":"655","v":-0.4},{"g":"THY1","s":"680","v":0.8},{"g":"THY1","s":"661","v":-0.2},{"g":"THY1","s":"654","v":0},{"g":"THY1","s":"657","v":0},{"g":"THY1","s":"656","v":0.5},{"g":"THY1","s":"659","v":3.5},{"g":"THY1","s":"664","v":-0.4},{"g":"THY1","s":"672","v":-0.7},{"g":"THY1","s":"674","v":-0.8},{"g":"THY1","s":"671","v":-0.1},{"g":"THY1","s":"663","v":-0.6},{"g":"THY1","s":"676","v":-0.8},{"g":"THY1","s":"667","v":-0.8},{"g":"THY1","s":"668","v":-0.7},{"g":"THY1","s":"669","v":-0.9},{"g":"THY1","s":"670","v":-0.3},{"g":"THY1","s":"678","v":-0.3},{"g":"THY1","s":"675","v":-0.6},{"g":"THY1","s":"677","v":-0.7},{"g":"THY1","s":"679","v":-0.7},{"g":"THY1","s":"666","v":-0.7},{"g":"THY1","s":"665","v":-0.9},
{"g":"AEBP1","s":"662","v":-1.5},{"g":"AEBP1","s":"673","v":-0.1},{"g":"AEBP1","s":"658","v":-1},{"g":"AEBP1","s":"660","v":-1.7},{"g":"AEBP1","s":"655","v":-1.4},{"g":"AEBP1","s":"680","v":-0.9},{"g":"AEBP1","s":"661","v":-1},{"g":"AEBP1","s":"654","v":-1.4},{"g":"AEBP1","s":"657","v":-1.2},{"g":"AEBP1","s":"656","v":2.1},{"g":"AEBP1","s":"659","v":-0.9},{"g":"AEBP1","s":"664","v":1.6},{"g":"AEBP1","s":"672","v":0.9},{"g":"AEBP1","s":"674","v":1.8},{"g":"AEBP1","s":"671","v":1},{"g":"AEBP1","s":"663","v":-0.4},{"g":"AEBP1","s":"676","v":0},{"g":"AEBP1","s":"667","v":0.8},{"g":"AEBP1","s":"668","v":0.3},{"g":"AEBP1","s":"669","v":0.3},{"g":"AEBP1","s":"670","v":0},{"g":"AEBP1","s":"678","v":0.5},{"g":"AEBP1","s":"675","v":0},{"g":"AEBP1","s":"677","v":1.3},{"g":"AEBP1","s":"679","v":-1.3},{"g":"AEBP1","s":"666","v":0.9},{"g":"AEBP1","s":"665","v":2.2},
{"g":"SAMD4A","s":"662","v":-0.7},{"g":"SAMD4A","s":"673","v":-0.6},{"g":"SAMD4A","s":"658","v":-0.2},{"g":"SAMD4A","s":"660","v":-1.5},{"g":"SAMD4A","s":"655","v":-1.9},{"g":"SAMD4A","s":"680","v":-0.5},{"g":"SAMD4A","s":"661","v":-0.2},{"g":"SAMD4A","s":"654","v":-1.2},{"g":"SAMD4A","s":"657","v":-0.9},{"g":"SAMD4A","s":"656","v":0},{"g":"SAMD4A","s":"659","v":-1.4},{"g":"SAMD4A","s":"664","v":2.1},{"g":"SAMD4A","s":"672","v":1},{"g":"SAMD4A","s":"674","v":1.8},{"g":"SAMD4A","s":"671","v":2.8},{"g":"SAMD4A","s":"663","v":-1.2},{"g":"SAMD4A","s":"676","v":0.8},{"g":"SAMD4A","s":"667","v":-0.6},{"g":"SAMD4A","s":"668","v":-0.3},{"g":"SAMD4A","s":"669","v":-0.1},{"g":"SAMD4A","s":"670","v":-0.3},{"g":"SAMD4A","s":"678","v":-0.3},{"g":"SAMD4A","s":"675","v":-0.5},{"g":"SAMD4A","s":"677","v":1.1},{"g":"SAMD4A","s":"679","v":1},{"g":"SAMD4A","s":"666","v":1.4},{"g":"SAMD4A","s":"665","v":1.2},
{"g":"ANO2","s":"662","v":-0.4},{"g":"ANO2","s":"673","v":-1},{"g":"ANO2","s":"658","v":-0.5},{"g":"ANO2","s":"660","v":-1.5},{"g":"ANO2","s":"655","v":-1.3},{"g":"ANO2","s":"680","v":-0.2},{"g":"ANO2","s":"661","v":-0.8},{"g":"ANO2","s":"654","v":-0.6},{"g":"ANO2","s":"657","v":-0.3},{"g":"ANO2","s":"656","v":0.1},{"g":"ANO2","s":"659","v":-0.9},{"g":"ANO2","s":"664","v":1},{"g":"ANO2","s":"672","v":2.5},{"g":"ANO2","s":"674","v":1.2},{"g":"ANO2","s":"671","v":2.9},{"g":"ANO2","s":"663","v":-1.2},{"g":"ANO2","s":"676","v":-0.5},{"g":"ANO2","s":"667","v":-0.9},{"g":"ANO2","s":"668","v":-0.9},{"g":"ANO2","s":"669","v":-1},{"g":"ANO2","s":"670","v":0.9},{"g":"ANO2","s":"678","v":-0.4},{"g":"ANO2","s":"675","v":-0.3},{"g":"ANO2","s":"677","v":1.3},{"g":"ANO2","s":"679","v":2},{"g":"ANO2","s":"666","v":-0.2},{"g":"ANO2","s":"665","v":1.4},
{"g":"SMAD6","s":"662","v":-1.2},{"g":"SMAD6","s":"673","v":-1},{"g":"SMAD6","s":"658","v":-1.1},{"g":"SMAD6","s":"660","v":-1.5},{"g":"SMAD6","s":"655","v":-1},{"g":"SMAD6","s":"680","v":-0.4},{"g":"SMAD6","s":"661","v":-0.6},{"g":"SMAD6","s":"654","v":-1},{"g":"SMAD6","s":"657","v":-1},{"g":"SMAD6","s":"656","v":0.2},{"g":"SMAD6","s":"659","v":-1.2},{"g":"SMAD6","s":"664","v":1.8},{"g":"SMAD6","s":"672","v":2.7},{"g":"SMAD6","s":"674","v":-0.3},{"g":"SMAD6","s":"671","v":1.7},{"g":"SMAD6","s":"663","v":-1.4},{"g":"SMAD6","s":"676","v":-1.4},{"g":"SMAD6","s":"667","v":-0.1},{"g":"SMAD6","s":"668","v":0.9},{"g":"SMAD6","s":"669","v":0.2},{"g":"SMAD6","s":"670","v":0.6},{"g":"SMAD6","s":"678","v":0.9},{"g":"SMAD6","s":"675","v":-0.3},{"g":"SMAD6","s":"677","v":1.2},{"g":"SMAD6","s":"679","v":1.2},{"g":"SMAD6","s":"666","v":1.2},{"g":"SMAD6","s":"665","v":1.2},
{"g":"HSPA1B","s":"662","v":-0.4},{"g":"HSPA1B","s":"673","v":-0.7},{"g":"HSPA1B","s":"658","v":0.8},{"g":"HSPA1B","s":"660","v":-0.5},{"g":"HSPA1B","s":"655","v":-0.6},{"g":"HSPA1B","s":"680","v":-0.6},{"g":"HSPA1B","s":"661","v":-0.5},{"g":"HSPA1B","s":"654","v":-0.7},{"g":"HSPA1B","s":"657","v":-0.7},{"g":"HSPA1B","s":"656","v":0.2},{"g":"HSPA1B","s":"659","v":-0.5},{"g":"HSPA1B","s":"664","v":1.2},{"g":"HSPA1B","s":"672","v":4.4},{"g":"HSPA1B","s":"674","v":0.6},{"g":"HSPA1B","s":"671","v":-0.7},{"g":"HSPA1B","s":"663","v":-0.7},{"g":"HSPA1B","s":"676","v":0.4},{"g":"HSPA1B","s":"667","v":-0.5},{"g":"HSPA1B","s":"668","v":0.8},{"g":"HSPA1B","s":"669","v":0.4},{"g":"HSPA1B","s":"670","v":-0.4},{"g":"HSPA1B","s":"678","v":-0.4},{"g":"HSPA1B","s":"675","v":-0.4},{"g":"HSPA1B","s":"677","v":-0.7},{"g":"HSPA1B","s":"679","v":-0.7},{"g":"HSPA1B","s":"666","v":0.1},{"g":"HSPA1B","s":"665","v":0.5},
{"g":"HSPA1A","s":"662","v":-0.2},{"g":"HSPA1A","s":"673","v":-0.4},{"g":"HSPA1A","s":"658","v":-0.4},{"g":"HSPA1A","s":"660","v":-0.4},{"g":"HSPA1A","s":"655","v":-0.4},{"g":"HSPA1A","s":"680","v":-0.4},{"g":"HSPA1A","s":"661","v":-0.4},{"g":"HSPA1A","s":"654","v":-0.4},{"g":"HSPA1A","s":"657","v":-0.4},{"g":"HSPA1A","s":"656","v":-0.4},{"g":"HSPA1A","s":"659","v":-0.4},{"g":"HSPA1A","s":"664","v":3.2},{"g":"HSPA1A","s":"672","v":3.4},{"g":"HSPA1A","s":"674","v":1.5},{"g":"HSPA1A","s":"671","v":-0.4},{"g":"HSPA1A","s":"663","v":-0.4},{"g":"HSPA1A","s":"676","v":-0.4},{"g":"HSPA1A","s":"667","v":-0.4},{"g":"HSPA1A","s":"668","v":-0.4},{"g":"HSPA1A","s":"669","v":-0.4},{"g":"HSPA1A","s":"670","v":-0.1},{"g":"HSPA1A","s":"678","v":-0.1},{"g":"HSPA1A","s":"675","v":-0.3},{"g":"HSPA1A","s":"677","v":-0.3},{"g":"HSPA1A","s":"679","v":-0.3},{"g":"HSPA1A","s":"666","v":-0.3},{"g":"HSPA1A","s":"665","v":-0.3},
{"g":"SERPINH1","s":"662","v":-0.2},{"g":"SERPINH1","s":"673","v":-0.5},{"g":"SERPINH1","s":"658","v":-0.3},{"g":"SERPINH1","s":"660","v":-0.5},{"g":"SERPINH1","s":"655","v":-0.5},{"g":"SERPINH1","s":"680","v":-0.5},{"g":"SERPINH1","s":"661","v":-0.5},{"g":"SERPINH1","s":"654","v":-0.5},{"g":"SERPINH1","s":"657","v":-0.5},{"g":"SERPINH1","s":"656","v":-0.2},{"g":"SERPINH1","s":"659","v":-0.5},{"g":"SERPINH1","s":"664","v":3},{"g":"SERPINH1","s":"672","v":3.7},{"g":"SERPINH1","s":"674","v":0},{"g":"SERPINH1","s":"671","v":1.3},{"g":"SERPINH1","s":"663","v":-0.5},{"g":"SERPINH1","s":"676","v":-0.5},{"g":"SERPINH1","s":"667","v":-0.4},{"g":"SERPINH1","s":"668","v":-0.1},{"g":"SERPINH1","s":"669","v":0.4},{"g":"SERPINH1","s":"670","v":-0.4},{"g":"SERPINH1","s":"678","v":-0.5},{"g":"SERPINH1","s":"675","v":-0.3},{"g":"SERPINH1","s":"677","v":-0.3},{"g":"SERPINH1","s":"679","v":-0.4},{"g":"SERPINH1","s":"666","v":-0.3},{"g":"SERPINH1","s":"665","v":-0.1},
{"g":"HSPB1","s":"662","v":-0.6},{"g":"HSPB1","s":"673","v":-0.6},{"g":"HSPB1","s":"658","v":-0.2},{"g":"HSPB1","s":"660","v":-0.6},{"g":"HSPB1","s":"655","v":-0.7},{"g":"HSPB1","s":"680","v":-0.6},{"g":"HSPB1","s":"661","v":-0.5},{"g":"HSPB1","s":"654","v":-0.7},{"g":"HSPB1","s":"657","v":-0.7},{"g":"HSPB1","s":"656","v":0.5},{"g":"HSPB1","s":"659","v":-0.6},{"g":"HSPB1","s":"664","v":2.9},{"g":"HSPB1","s":"672","v":3.5},{"g":"HSPB1","s":"674","v":0.05},{"g":"HSPB1","s":"671","v":2.1},{"g":"HSPB1","s":"663","v":-0.6},{"g":"HSPB1","s":"676","v":0.05},{"g":"HSPB1","s":"667","v":-0.6},{"g":"HSPB1","s":"668","v":-0.3},{"g":"HSPB1","s":"669","v":0.05},{"g":"HSPB1","s":"670","v":-0.6},{"g":"HSPB1","s":"678","v":-0.2},{"g":"HSPB1","s":"675","v":-0.2},{"g":"HSPB1","s":"677","v":-0.7},{"g":"HSPB1","s":"679","v":-0.7},{"g":"HSPB1","s":"666","v":0.4},{"g":"HSPB1","s":"665","v":0.2},
{"g":"HSP90AA1","s":"662","v":-0.3},{"g":"HSP90AA1","s":"673","v":-0.5},{"g":"HSP90AA1","s":"658","v":-0.3},{"g":"HSP90AA1","s":"660","v":-0.6},{"g":"HSP90AA1","s":"655","v":-0.7},{"g":"HSP90AA1","s":"680","v":-0.7},{"g":"HSP90AA1","s":"661","v":-0.6},{"g":"HSP90AA1","s":"654","v":-0.7},{"g":"HSP90AA1","s":"657","v":-0.7},{"g":"HSP90AA1","s":"656","v":0.6},{"g":"HSP90AA1","s":"659","v":-0.6},{"g":"HSP90AA1","s":"664","v":2.7},{"g":"HSP90AA1","s":"672","v":3.2},{"g":"HSP90AA1","s":"674","v":2.4},{"g":"HSP90AA1","s":"671","v":1},{"g":"HSP90AA1","s":"663","v":-0.7},{"g":"HSP90AA1","s":"676","v":-0.2},{"g":"HSP90AA1","s":"667","v":-0.6},{"g":"HSP90AA1","s":"668","v":-0.3},{"g":"HSP90AA1","s":"669","v":-0.3},{"g":"HSP90AA1","s":"670","v":-0.3},{"g":"HSP90AA1","s":"678","v":-0.2},{"g":"HSP90AA1","s":"675","v":-0.1},{"g":"HSP90AA1","s":"677","v":-0.9},{"g":"HSP90AA1","s":"679","v":-0.3},{"g":"HSP90AA1","s":"666","v":0.6},{"g":"HSP90AA1","s":"665","v":0.9},
{"g":"MKNK2","s":"662","v":-0.8},{"g":"MKNK2","s":"673","v":-0.8},{"g":"MKNK2","s":"658","v":-0.2},{"g":"MKNK2","s":"660","v":-0.7},{"g":"MKNK2","s":"655","v":-1.1},{"g":"MKNK2","s":"680","v":-0.8},{"g":"MKNK2","s":"661","v":-0.8},{"g":"MKNK2","s":"654","v":-0.6},{"g":"MKNK2","s":"657","v":-0.6},{"g":"MKNK2","s":"656","v":0.7},{"g":"MKNK2","s":"659","v":-0.8},{"g":"MKNK2","s":"664","v":3.2},{"g":"MKNK2","s":"672","v":2.2},{"g":"MKNK2","s":"674","v":1.3},{"g":"MKNK2","s":"671","v":1.7},{"g":"MKNK2","s":"663","v":-0.6},{"g":"MKNK2","s":"676","v":-0.2},{"g":"MKNK2","s":"667","v":-0.3},{"g":"MKNK2","s":"668","v":0.2},{"g":"MKNK2","s":"669","v":0.2},{"g":"MKNK2","s":"670","v":0.05},{"g":"MKNK2","s":"678","v":0.1},{"g":"MKNK2","s":"675","v":0.05},{"g":"MKNK2","s":"677","v":-0.7},{"g":"MKNK2","s":"679","v":-0.7},{"g":"MKNK2","s":"666","v":1},{"g":"MKNK2","s":"665","v":0}],
"heat_d":[{"g":"Ache","s":"206","v":-0.3},{"g":"Ache","s":"204","v":-0.7},{"g":"Ache","s":"219","v":0.9},{"g":"Ache","s":"205","v":-0.1},{"g":"Ache","s":"203","v":0},{"g":"Ache","s":"220","v":2},{"g":"Ache","s":"218","v":1.4},{"g":"Ache","s":"217","v":0.7},{"g":"Ache","s":"228","v":1.6},{"g":"Ache","s":"213","v":-1.8},{"g":"Ache","s":"211","v":-1.2},{"g":"Ache","s":"212","v":-1.2},{"g":"Ache","s":"226","v":-0.7},{"g":"Ache","s":"225","v":-0.2},{"g":"Ache","s":"227","v":-0.3},
{"g":"Emp2","s":"206","v":-0.6},{"g":"Emp2","s":"204","v":-0.6},{"g":"Emp2","s":"219","v":0.6},{"g":"Emp2","s":"205","v":-0.2},{"g":"Emp2","s":"203","v":1},{"g":"Emp2","s":"220","v":2.9},{"g":"Emp2","s":"218","v":1.6},{"g":"Emp2","s":"217","v":0},{"g":"Emp2","s":"228","v":-0.5},{"g":"Emp2","s":"213","v":-1.7},{"g":"Emp2","s":"211","v":-0.6},{"g":"Emp2","s":"212","v":-1.2},{"g":"Emp2","s":"226","v":0.1},{"g":"Emp2","s":"225","v":0},{"g":"Emp2","s":"227","v":-0.7},
{"g":"Ccl4","s":"206","v":0.3},{"g":"Ccl4","s":"204","v":0.05},{"g":"Ccl4","s":"219","v":0.7},{"g":"Ccl4","s":"205","v":1.1},{"g":"Ccl4","s":"203","v":0.8},{"g":"Ccl4","s":"220","v":1.5},{"g":"Ccl4","s":"218","v":1.1},{"g":"Ccl4","s":"217","v":1},{"g":"Ccl4","s":"228","v":-0.6},{"g":"Ccl4","s":"213","v":-2.5},{"g":"Ccl4","s":"211","v":-1},{"g":"Ccl4","s":"212","v":-2.1},{"g":"Ccl4","s":"226","v":0},{"g":"Ccl4","s":"225","v":0.4},{"g":"Ccl4","s":"227","v":-0.3},
{"g":"Tubb4a","s":"206","v":0.4},{"g":"Tubb4a","s":"204","v":-0.6},{"g":"Tubb4a","s":"219","v":0.8},{"g":"Tubb4a","s":"205","v":1.2},{"g":"Tubb4a","s":"203","v":1},{"g":"Tubb4a","s":"220","v":1.4},{"g":"Tubb4a","s":"218","v":0.9},{"g":"Tubb4a","s":"217","v":-0.6},{"g":"Tubb4a","s":"228","v":-0.2},{"g":"Tubb4a","s":"213","v":-2.4},{"g":"Tubb4a","s":"211","v":-1.5},{"g":"Tubb4a","s":"212","v":-1.7},{"g":"Tubb4a","s":"226","v":0.7},{"g":"Tubb4a","s":"225","v":0.5},{"g":"Tubb4a","s":"227","v":0.4},
{"g":"Sult1a","s":"206","v":0.3},{"g":"Sult1a","s":"204","v":-0.2},{"g":"Sult1a","s":"219","v":1.2},{"g":"Sult1a","s":"205","v":0.3},{"g":"Sult1a","s":"203","v":-0.5},{"g":"Sult1a","s":"220","v":1.6},{"g":"Sult1a","s":"218","v":3},{"g":"Sult1a","s":"217","v":0.1},{"g":"Sult1a","s":"228","v":-0.7},{"g":"Sult1a","s":"213","v":-1.4},{"g":"Sult1a","s":"211","v":-1.1},{"g":"Sult1a","s":"212","v":-1},{"g":"Sult1a","s":"226","v":-1},{"g":"Sult1a","s":"225","v":-0.9},{"g":"Sult1a","s":"227","v":-0.1},
{"g":"Aacs","s":"206","v":0.8},{"g":"Aacs","s":"204","v":0.1},{"g":"Aacs","s":"219","v":1.6},{"g":"Aacs","s":"205","v":1.3},{"g":"Aacs","s":"203","v":1},{"g":"Aacs","s":"220","v":0.7},{"g":"Aacs","s":"218","v":1.4},{"g":"Aacs","s":"217","v":-1.3},{"g":"Aacs","s":"228","v":-0.7},{"g":"Aacs","s":"213","v":-1.7},{"g":"Aacs","s":"211","v":-1.6},{"g":"Aacs","s":"212","v":-0.8},{"g":"Aacs","s":"226","v":-0.7},{"g":"Aacs","s":"225","v":-0.8},{"g":"Aacs","s":"227","v":0.5},
{"g":"P2ry13","s":"206","v":-0.6},{"g":"P2ry13","s":"204","v":0.05},{"g":"P2ry13","s":"219","v":-0.8},{"g":"P2ry13","s":"205","v":2},{"g":"P2ry13","s":"203","v":1.2},{"g":"P2ry13","s":"220","v":1.2},{"g":"P2ry13","s":"218","v":2.5},{"g":"P2ry13","s":"217","v":0.9},{"g":"P2ry13","s":"228","v":-1.5},{"g":"P2ry13","s":"213","v":-1.7},{"g":"P2ry13","s":"211","v":-0.2},{"g":"P2ry13","s":"212","v":-0.1},{"g":"P2ry13","s":"226","v":-0.8},{"g":"P2ry13","s":"225","v":-0.4},{"g":"P2ry13","s":"227","v":-0.8},
{"g":"Timp1","s":"206","v":1.1},{"g":"Timp1","s":"204","v":0.6},{"g":"Timp1","s":"219","v":0.4},{"g":"Timp1","s":"205","v":2.4},{"g":"Timp1","s":"203","v":1.8},{"g":"Timp1","s":"220","v":1.4},{"g":"Timp1","s":"218","v":-0.8},{"g":"Timp1","s":"217","v":-1.2},{"g":"Timp1","s":"228","v":-0.5},{"g":"Timp1","s":"213","v":-1.2},{"g":"Timp1","s":"211","v":-0.4},{"g":"Timp1","s":"212","v":-0.7},{"g":"Timp1","s":"226","v":-0.7},{"g":"Timp1","s":"225","v":-0.3},{"g":"Timp1","s":"227","v":-1.2},
{"g":"S100a8","s":"206","v":1.7},{"g":"S100a8","s":"204","v":1.2},{"g":"S100a8","s":"219","v":0.5},{"g":"S100a8","s":"205","v":2.2},{"g":"S100a8","s":"203","v":2},{"g":"S100a8","s":"220","v":-0.1},{"g":"S100a8","s":"218","v":-0.1},{"g":"S100a8","s":"217","v":-1.2},{"g":"S100a8","s":"228","v":-0.3},{"g":"S100a8","s":"213","v":-1.6},{"g":"S100a8","s":"211","v":-1.1},{"g":"S100a8","s":"212","v":-1.1},{"g":"S100a8","s":"226","v":-0.8},{"g":"S100a8","s":"225","v":0.3},{"g":"S100a8","s":"227","v":-0.2},
{"g":"Serpina3n","s":"206","v":2.2},{"g":"Serpina3n","s":"204","v":1},{"g":"Serpina3n","s":"219","v":-0.3},{"g":"Serpina3n","s":"205","v":1.7},{"g":"Serpina3n","s":"203","v":0.6},{"g":"Serpina3n","s":"220","v":0.6},{"g":"Serpina3n","s":"218","v":-0.8},{"g":"Serpina3n","s":"217","v":-0.3},{"g":"Serpina3n","s":"228","v":-1.3},{"g":"Serpina3n","s":"213","v":-0.2},{"g":"Serpina3n","s":"211","v":0.8},{"g":"Serpina3n","s":"212","v":0.8},{"g":"Serpina3n","s":"226","v":-1.3},{"g":"Serpina3n","s":"225","v":-1.1},{"g":"Serpina3n","s":"227","v":-1.2},
{"g":"Fmo1","s":"206","v":-0.9},{"g":"Fmo1","s":"204","v":-0.9},{"g":"Fmo1","s":"219","v":-0.9},{"g":"Fmo1","s":"205","v":-0.8},{"g":"Fmo1","s":"203","v":-1.3},{"g":"Fmo1","s":"220","v":-0.7},{"g":"Fmo1","s":"218","v":-0.7},{"g":"Fmo1","s":"217","v":-0.8},{"g":"Fmo1","s":"228","v":-0.5},{"g":"Fmo1","s":"213","v":0.8},{"g":"Fmo1","s":"211","v":0.8},{"g":"Fmo1","s":"212","v":1.4},{"g":"Fmo1","s":"226","v":2.1},{"g":"Fmo1","s":"225","v":0.9},{"g":"Fmo1","s":"227","v":1.7},
{"g":"Slc40a1","s":"206","v":-0.6},{"g":"Slc40a1","s":"204","v":-0.9},{"g":"Slc40a1","s":"219","v":-0.8},{"g":"Slc40a1","s":"205","v":-0.7},{"g":"Slc40a1","s":"203","v":-1},{"g":"Slc40a1","s":"220","v":-0.8},{"g":"Slc40a1","s":"218","v":-0.8},{"g":"Slc40a1","s":"217","v":-1},{"g":"Slc40a1","s":"228","v":-0.1},{"g":"Slc40a1","s":"213","v":0.7},{"g":"Slc40a1","s":"211","v":1},{"g":"Slc40a1","s":"212","v":1.2},{"g":"Slc40a1","s":"226","v":2.3},{"g":"Slc40a1","s":"225","v":0.3},{"g":"Slc40a1","s":"227","v":1.8},
{"g":"Etv4","s":"206","v":-0.6},{"g":"Etv4","s":"204","v":-0.6},{"g":"Etv4","s":"219","v":-0.4},{"g":"Etv4","s":"205","v":-0.6},{"g":"Etv4","s":"203","v":-0.6},{"g":"Etv4","s":"220","v":-0.2},{"g":"Etv4","s":"218","v":-0.2},{"g":"Etv4","s":"217","v":-0.1},{"g":"Etv4","s":"228","v":-0.2},{"g":"Etv4","s":"213","v":-0.5},{"g":"Etv4","s":"211","v":-0.6},{"g":"Etv4","s":"212","v":-0.2},{"g":"Etv4","s":"226","v":2.8},{"g":"Etv4","s":"225","v":2.6},{"g":"Etv4","s":"227","v":0.7},
{"g":"Lcn2","s":"206","v":-0.4},{"g":"Lcn2","s":"204","v":-0.4},{"g":"Lcn2","s":"219","v":-0.4},{"g":"Lcn2","s":"205","v":-0.4},{"g":"Lcn2","s":"203","v":-0.4},{"g":"Lcn2","s":"220","v":-0.4},{"g":"Lcn2","s":"218","v":-0.4},{"g":"Lcn2","s":"217","v":-0.4},{"g":"Lcn2","s":"228","v":-0.4},{"g":"Lcn2","s":"213","v":-0.2},{"g":"Lcn2","s":"211","v":-0.15},{"g":"Lcn2","s":"212","v":-0.1},{"g":"Lcn2","s":"226","v":3.2},{"g":"Lcn2","s":"225","v":1.5},{"g":"Lcn2","s":"227","v":0.1},
{"g":"Mt1","s":"206","v":-0.5},{"g":"Mt1","s":"204","v":-0.5},{"g":"Mt1","s":"219","v":-0.4},{"g":"Mt1","s":"205","v":-0.4},{"g":"Mt1","s":"203","v":-0.6},{"g":"Mt1","s":"220","v":-0.6},{"g":"Mt1","s":"218","v":-0.3},{"g":"Mt1","s":"217","v":-0.6},{"g":"Mt1","s":"228","v":-0.4},{"g":"Mt1","s":"213","v":-0.4},{"g":"Mt1","s":"211","v":-0.3},{"g":"Mt1","s":"212","v":-0.3},{"g":"Mt1","s":"226","v":2.4},{"g":"Mt1","s":"225","v":1.9},{"g":"Mt1","s":"227","v":2.5},
{"g":"Ccdc184","s":"206","v":-0.7},{"g":"Ccdc184","s":"204","v":-0.6},{"g":"Ccdc184","s":"219","v":-0.6},{"g":"Ccdc184","s":"205","v":-0.6},{"g":"Ccdc184","s":"203","v":-0.6},{"g":"Ccdc184","s":"220","v":-0.5},{"g":"Ccdc184","s":"218","v":-0.4},{"g":"Ccdc184","s":"217","v":-0.5},{"g":"Ccdc184","s":"228","v":-0.3},{"g":"Ccdc184","s":"213","v":0},{"g":"Ccdc184","s":"211","v":-0.2},{"g":"Ccdc184","s":"212","v":0.3},{"g":"Ccdc184","s":"226","v":2.8},{"g":"Ccdc184","s":"225","v":1.9},{"g":"Ccdc184","s":"227","v":1.6},
{"g":"Fam107a","s":"206","v":-0.7},{"g":"Fam107a","s":"204","v":-0.6},{"g":"Fam107a","s":"219","v":-0.2},{"g":"Fam107a","s":"205","v":-0.7},{"g":"Fam107a","s":"203","v":-0.8},{"g":"Fam107a","s":"220","v":-0.3},{"g":"Fam107a","s":"218","v":0},{"g":"Fam107a","s":"217","v":-0.5},{"g":"Fam107a","s":"228","v":0},{"g":"Fam107a","s":"213","v":-0.4},{"g":"Fam107a","s":"211","v":-0.4},{"g":"Fam107a","s":"212","v":-0.3},{"g":"Fam107a","s":"226","v":2.7},{"g":"Fam107a","s":"225","v":0.8},{"g":"Fam107a","s":"227","v":2.6},
{"g":"Ly6a","s":"206","v":-0.6},{"g":"Ly6a","s":"204","v":-0.6},{"g":"Ly6a","s":"219","v":-0.5},{"g":"Ly6a","s":"205","v":-0.7},{"g":"Ly6a","s":"203","v":-0.7},{"g":"Ly6a","s":"220","v":-0.5},{"g":"Ly6a","s":"218","v":-0.5},{"g":"Ly6a","s":"217","v":-0.6},{"g":"Ly6a","s":"228","v":-0.2},{"g":"Ly6a","s":"213","v":0},{"g":"Ly6a","s":"211","v":0.3},{"g":"Ly6a","s":"212","v":0.5},{"g":"Ly6a","s":"226","v":2.9},{"g":"Ly6a","s":"225","v":0.2},{"g":"Ly6a","s":"227","v":2.3},
{"g":"Lgals3","s":"206","v":-0.6},{"g":"Lgals3","s":"204","v":-0.6},{"g":"Lgals3","s":"219","v":-0.7},{"g":"Lgals3","s":"205","v":-0.7},{"g":"Lgals3","s":"203","v":-0.8},{"g":"Lgals3","s":"220","v":-0.4},{"g":"Lgals3","s":"218","v":-0.4},{"g":"Lgals3","s":"217","v":-0.7},{"g":"Lgals3","s":"228","v":-0.3},{"g":"Lgals3","s":"213","v":0.05},{"g":"Lgals3","s":"211","v":0.5},{"g":"Lgals3","s":"212","v":0.6},{"g":"Lgals3","s":"226","v":2.8},{"g":"Lgals3","s":"225","v":0.7},{"g":"Lgals3","s":"227","v":1.9}],
"c_row":[{"l":1,"r":2,"h":38,"hl":0,"hr":0},{"l":3,"r":4,"h":34,"hl":0,"hr":0},{"l":1.5,"r":3.5,"h":62,"hl":38,"hr":34},{"l":5,"r":6,"h":38,"hl":0,"hr":0},{"l":2.5,"r":5.5,"h":76,"hl":62,"hr":38},{"l":4,"r":7,"h":81,"hl":76,"hr":0},{"l":8,"r":9,"h":31,"hl":0,"hr":0},{"l":8.5,"r":10,"h":68,"hl":31,"hr":0},{"l":5.5,"r":9.25,"h":93,"hl":81,"hr":68},{"l":13,"r":14,"h":68,"hl":0,"hr":0},{"l":12,"r":13.5,"h":78,"hl":0,"hr":68},{"l":11,"r":12.75,"h":103,"hl":0,"hr":78},{"l":15,"r":16,"h":63,"hl":0,"hr":0},{"l":17,"r":18,"h":31,"hl":0,"hr":0},{"l":19,"r":20,"h":41,"hl":0,"hr":0},{"l":17.5,"r":19.5,"h":56,"hl":31,"hr":41},{"l":15.5,"r":18.5,"h":84,"hl":63,"hr":56},{"l":11.88,"r":17,"h":116,"hl":103,"hr":84},{"l":7.38,"r":14.44,"h":188,"hl":93,"hr":116}],
"c_col":[{"l":1,"r":2,"h":28,"hl":0,"hr":0},{"l":1.5,"r":3,"h":42,"hl":28,"hr":0},{"l":4,"r":5,"h":25,"hl":0,"hr":0},{"l":4.5,"r":6,"h":35,"hl":25,"hr":0},{"l":5.25,"r":7,"h":48,"hl":35,"hr":0},{"l":2.25,"r":6.13,"h":58,"hl":42,"hr":48},{"l":8,"r":9,"h":35,"hl":0,"hr":0},{"l":8.5,"r":10,"h":62,"hl":35,"hr":0},{"l":4.19,"r":9.25,"h":70,"hl":58,"hr":62},{"l":6.72,"r":11,"h":97,"hl":70,"hr":0},{"l":12,"r":13,"h":55,"hl":0,"hr":0},{"l":14,"r":15,"h":50,"hl":0,"hr":0},{"l":19,"r":20,"h":18,"hl":0,"hr":0},{"l":18,"r":19.5,"h":25,"hl":0,"hr":18},{"l":17,"r":18.75,"h":30,"hl":0,"hr":25},{"l":16,"r":17.88,"h":40,"hl":0,"hr":30},{"l":22,"r":23,"h":18,"hl":0,"hr":0},{"l":21,"r":22.5,"h":25,"hl":0,"hr":18},{"l":24,"r":25,"h":30,"hl":0,"hr":0},{"l":26,"r":27,"h":28,"hl":0,"hr":0},{"l":24.5,"r":26.5,"h":43,"hl":30,"hr":28},{"l":21.75,"r":25.5,"h":45,"hl":25,"hr":43},{"l":16.94,"r":23.63,"h":60,"hl":40,"hr":45},{"l":14.5,"r":20.28,"h":88,"hl":50,"hr":60},{"l":12.5,"r":17.39,"h":140,"hl":55,"hr":88},{"l":8.86,"r":14.95,"h":187,"hl":97,"hr":140}],
"d_row":[{"l":1,"r":2,"h":72,"hl":0,"hr":0},{"l":3,"r":4,"h":50,"hl":0,"hr":0},{"l":1.5,"r":3.5,"h":85,"hl":72,"hr":50},{"l":5,"r":6,"h":75,"hl":0,"hr":0},{"l":5.5,"r":7,"h":102,"hl":75,"hr":0},{"l":2.5,"r":6.25,"h":114,"hl":85,"hr":102},{"l":8,"r":9,"h":59,"hl":0,"hr":0},{"l":8.5,"r":10,"h":105,"hl":59,"hr":0},{"l":4.38,"r":9.25,"h":160,"hl":114,"hr":105},{"l":11,"r":12,"h":24,"hl":0,"hr":0},{"l":13,"r":14,"h":39,"hl":0,"hr":0},{"l":18,"r":19,"h":22,"hl":0,"hr":0},{"l":17,"r":18.5,"h":32,"hl":0,"hr":22},{"l":15,"r":16,"h":32,"hl":0,"hr":0},{"l":15.5,"r":17.75,"h":52,"hl":32,"hr":32},{"l":13.5,"r":16.63,"h":72,"hl":39,"hr":52},{"l":11.5,"r":15.06,"h":90,"hl":24,"hr":72},{"l":6.81,"r":13.28,"h":187,"hl":160,"hr":90}],
"d_col":[{"l":1,"r":2,"h":31,"hl":0,"hr":0},{"l":4,"r":5,"h":33,"hl":0,"hr":0},{"l":1.5,"r":3,"h":56,"hl":31,"hr":0},{"l":2.25,"r":4.5,"h":63,"hl":56,"hr":33},{"l":6,"r":7,"h":61,"hl":0,"hr":0},{"l":3.38,"r":6.5,"h":98,"hl":63,"hr":61},{"l":8,"r":9,"h":61,"hl":0,"hr":0},{"l":11,"r":12,"h":26,"hl":0,"hr":0},{"l":10,"r":11.5,"h":48,"hl":0,"hr":26},{"l":8.5,"r":10.75,"h":98,"hl":61,"hr":48},{"l":4.94,"r":9.63,"h":158,"hl":98,"hr":98},{"l":14,"r":15,"h":71,"hl":0,"hr":0},{"l":13,"r":14.5,"h":96,"hl":0,"hr":71},{"l":7.28,"r":13.75,"h":196,"hl":158,"hr":96}],
"v_blue":[{"x":-2.8,"y":375.3},{"x":20,"y":392.9},{"x":46.5,"y":403.8},{"x":75,"y":407.6},{"x":103.5,"y":403.8},{"x":130,"y":392.9},{"x":152.8,"y":375.3},{"x":227.7,"y":300.4},{"x":245.3,"y":277.6},{"x":256.2,"y":251.1},{"x":260,"y":222.6},{"x":256.2,"y":194.1},{"x":245.3,"y":167.6},{"x":227.7,"y":144.8},{"x":-241.8,"y":-324.7},{"x":-264.6,"y":-342.3},{"x":-291.1,"y":-353.2},{"x":-319.6,"y":-357},{"x":-348.1,"y":-353.2},{"x":-374.6,"y":-342.3},{"x":-397.4,"y":-324.7},{"x":-472.3,"y":-249.8},{"x":-489.9,"y":-227},{"x":-500.8,"y":-200.5},{"x":-504.6,"y":-172},{"x":-500.8,"y":-143.5},{"x":-489.9,"y":-117},{"x":-472.3,"y":-94.2}],
"v_yellow":[{"x":87.9,"y":206.9},{"x":118.9,"y":230.7},{"x":155.1,"y":245.7},{"x":193.9,"y":250.9},{"x":232.8,"y":245.7},{"x":269,"y":230.7},{"x":300,"y":206.9},{"x":319.8,"y":187.1},{"x":343.6,"y":156.1},{"x":358.6,"y":119.9},{"x":363.8,"y":81},{"x":358.6,"y":42.2},{"x":343.6,"y":6},{"x":319.8,"y":-25},{"x":-28.1,"y":-372.9},{"x":-59.1,"y":-396.7},{"x":-95.3,"y":-411.7},{"x":-134.1,"y":-416.9},{"x":-173,"y":-411.7},{"x":-209.2,"y":-396.7},{"x":-240.2,"y":-372.9},{"x":-260,"y":-353.1},{"x":-283.8,"y":-322.1},{"x":-298.8,"y":-285.9},{"x":-304,"y":-247},{"x":-298.8,"y":-208.2},{"x":-283.8,"y":-172},{"x":-260,"y":-141}],
"v_orange":[{"x":-80.6,"y":203.9},{"x":-111.6,"y":227.7},{"x":-147.8,"y":242.7},{"x":-186.6,"y":247.9},{"x":-225.5,"y":242.7},{"x":-261.7,"y":227.7},{"x":-292.7,"y":203.9},{"x":-312.5,"y":184.1},{"x":-336.3,"y":153.1},{"x":-351.3,"y":116.9},{"x":-356.5,"y":78},{"x":-351.3,"y":39.2},{"x":-336.3,"y":3},{"x":-312.5,"y":-28},{"x":35.4,"y":-375.9},{"x":66.4,"y":-399.7},{"x":102.6,"y":-414.7},{"x":141.4,"y":-419.9},{"x":180.3,"y":-414.7},{"x":216.5,"y":-399.7},{"x":247.5,"y":-375.9},{"x":267.3,"y":-356.1},{"x":291.1,"y":-325.1},{"x":306.1,"y":-288.9},{"x":311.3,"y":-250},{"x":306.1,"y":-211.2},{"x":291.1,"y":-175},{"x":267.3,"y":-144}],
"v_pink":[{"x":-4.6,"y":356.4},{"x":-27.4,"y":374},{"x":-53.9,"y":384.9},{"x":-82.4,"y":388.7},{"x":-110.9,"y":384.9},{"x":-137.4,"y":374},{"x":-160.2,"y":356.4},{"x":-235.1,"y":281.5},{"x":-252.7,"y":258.7},{"x":-263.6,"y":232.2},{"x":-267.4,"y":203.7},{"x":-263.6,"y":175.2},{"x":-252.7,"y":148.7},{"x":-235.1,"y":125.9},{"x":234.4,"y":-343.6},{"x":257.2,"y":-361.2},{"x":283.7,"y":-372.1},{"x":312.2,"y":-375.9},{"x":340.7,"y":-372.1},{"x":367.2,"y":-361.2},{"x":390,"y":-343.6},{"x":464.9,"y":-268.7},{"x":482.5,"y":-245.9},{"x":493.4,"y":-219.4},{"x":497.2,"y":-190.9},{"x":493.4,"y":-162.4},{"x":482.5,"y":-135.9},{"x":464.9,"y":-113.1}]
},
"layer":[
{"layer":[
{"data":{"values":[{"y":0},{"y":1},{"y":2},{"y":3},{"y":4}]},"mark":{"type":"rule","color":"#ebebeb","strokeWidth":4.5},"encoding":{"y":{"field":"y","type":"quantitative","scale":{"domain":[-0.22,4.76],"range":[678.6,45],"nice":false,"zero":false},"axis":{"title":"−Log₁₀ (P.adj)","orient":"left","values":[0,1,2,3,4],"format":"d","offset":-162.5,"domain":false,"tickColor":"#111","tickWidth":3,"tickSize":14,"labelFontSize":33,"labelColor":"#222","labelPadding":10,"titleFontSize":38,"titleFontWeight":"normal","titleColor":"#222","titlePadding":24}},"x":{"datum":-5,"type":"quantitative","scale":{"domain":[-5.07,5.08],"range":[162.5,781],"nice":false,"zero":false},"axis":{"title":"Log₂ (Fold Change)","orient":"bottom","values":[-5,-2.5,0,2.5,5],"format":".1f","offset":-1984.4,"domain":false,"tickColor":"#111","tickWidth":3,"tickSize":14,"labelFontSize":33,"labelColor":"#222","labelPadding":12,"labelFlush":false,"labelOverlap":false,"titleFontSize":38,"titleFontWeight":"normal","titleColor":"#222","titlePadding":11}},"x2":{"datum":5}}},
{"data":{"values":[{"y":0.5},{"y":1.5},{"y":2.5},{"y":3.5},{"y":4.5}]},"mark":{"type":"rule","color":"#ebebeb","strokeWidth":2.5},"encoding":{"y":{"field":"y","type":"quantitative"},"x":{"datum":-5,"type":"quantitative"},"x2":{"datum":5}}},
{"data":{"values":[{"x":-5},{"x":-3.75},{"x":-2.5},{"x":-1.25},{"x":0},{"x":1.25},{"x":2.5},{"x":3.75},{"x":5}]},"mark":{"type":"rule","color":"#ebebeb","strokeWidth":4},"encoding":{"x":{"field":"x","type":"quantitative"},"y":{"datum":-0.15,"type":"quantitative"},"y2":{"datum":4.7}}},
{"data":{"name":"a_ns"},"mark":{"type":"point","filled":true,"size":85,"opacity":0.5,"color":"#666"},"encoding":{"x":{"field":"x","type":"quantitative"},"y":{"field":"y","type":"quantitative"}}},
{"data":{"name":"a_nscore"},"mark":{"type":"point","filled":true,"size":170,"opacity":0.8,"color":"#666"},"encoding":{"x":{"field":"x","type":"quantitative"},"y":{"field":"y","type":"quantitative"}}},
{"data":{"name":"a_nscore"},"mark":{"type":"point","filled":true,"size":120,"opacity":0.8,"color":"#666"},"encoding":{"x":{"field":"x","type":"quantitative"},"y":{"field":"y","type":"quantitative"}}},
{"data":{"name":"a_down"},"mark":{"type":"point","filled":true,"size":85,"opacity":0.5,"color":"#2a5cdb"},"encoding":{"x":{"field":"x","type":"quantitative"},"y":{"field":"y","type":"quantitative"}}},
{"data":{"name":"a_core"},"mark":{"type":"point","filled":true,"size":170,"opacity":0.8,"color":"#2a5cdb"},"encoding":{"x":{"field":"x","type":"quantitative"},"y":{"field":"y","type":"quantitative"}}},
{"data":{"name":"a_core"},"mark":{"type":"point","filled":true,"size":120,"opacity":0.8,"color":"#2a5cdb"},"encoding":{"x":{"field":"x","type":"quantitative"},"y":{"field":"y","type":"quantitative"}}},
{"data":{"name":"a_up"},"mark":{"type":"point","filled":true,"size":85,"opacity":0.5,"color":"#f84a2d"},"encoding":{"x":{"field":"x","type":"quantitative"},"y":{"field":"y","type":"quantitative"}}},
{"data":{"values":[{"x":-0.5},{"x":0.5}]},"mark":{"type":"rule","color":"#555","strokeWidth":3,"strokeDash":[17,10]},"encoding":{"x":{"field":"x","type":"quantitative"},"y":{"datum":-0.22,"type":"quantitative"},"y2":{"datum":4.76}}},
{"data":{"values":[{"y":1.3}]},"mark":{"type":"rule","color":"#555","strokeWidth":3,"strokeDash":[17,10]},"encoding":{"y":{"field":"y","type":"quantitative"},"x":{"datum":-5.07,"type":"quantitative"},"x2":{"datum":5.08}}},
{"data":{"values":[{}]},"mark":{"type":"rect","fill":null,"stroke":"#111","strokeWidth":3},"encoding":{"x":{"datum":-5.07,"type":"quantitative"},"x2":{"datum":5.08},"y":{"datum":-0.22,"type":"quantitative"},"y2":{"datum":4.76}}},
{"data":{"values":[{"t":"a","x":-7.67,"y":4.83}]},"mark":{"type":"text","align":"left","baseline":"alphabetic","fontSize":48,"fontWeight":"bold","color":"#000"},"encoding":{"x":{"field":"x","type":"quantitative"},"y":{"field":"y","type":"quantitative"},"text":{"field":"t"}}}
]},
{"layer":[
{"data":{"values":[{"y":0},{"y":2},{"y":4},{"y":6}]},"mark":{"type":"rule","color":"#ebebeb","strokeWidth":4.5},"encoding":{"y":{"field":"y","type":"quantitative","scale":{"domain":[-0.355,7.1],"range":[679.6,45],"nice":false,"zero":false},"axis":{"title":"−Log₁₀ (P.adj)","orient":"left","values":[0,2,4,6],"format":"d","offset":-1081.8,"domain":false,"tickColor":"#111","tickWidth":3,"tickSize":14,"labelFontSize":33,"labelColor":"#222","labelPadding":10,"titleFontSize":38,"titleFontWeight":"normal","titleColor":"#222","titlePadding":24}},"x":{"datum":-2.8,"type":"quantitative","scale":{"domain":[-2.884,2.888],"range":[1081.8,1701.7],"nice":false,"zero":false},"axis":{"title":"Log₂ (Fold Change)","orient":"bottom","values":[-2,-1,0,1,2],"format":"d","offset":-1983.4,"domain":false,"tickColor":"#111","tickWidth":3,"tickSize":14,"labelFontSize":33,"labelColor":"#222","labelPadding":12,"labelFlush":false,"labelOverlap":false,"titleFontSize":38,"titleFontWeight":"normal","titleColor":"#222","titlePadding":11}},"x2":{"datum":2.82}}},
{"data":{"values":[{"y":1},{"y":3},{"y":5},{"y":7}]},"mark":{"type":"rule","color":"#ebebeb","strokeWidth":2.5},"encoding":{"y":{"field":"y","type":"quantitative"},"x":{"datum":-2.8,"type":"quantitative"},"x2":{"datum":2.82}}},
{"data":{"values":[{"x":-2},{"x":-1},{"x":0},{"x":1},{"x":2}]},"mark":{"type":"rule","color":"#ebebeb","strokeWidth":4.5},"encoding":{"x":{"field":"x","type":"quantitative"},"y":{"datum":-0.28,"type":"quantitative"},"y2":{"datum":7.03}}},
{"data":{"values":[{"x":-2.5},{"x":-1.5},{"x":-0.5},{"x":0.5},{"x":1.5},{"x":2.5}]},"mark":{"type":"rule","color":"#ebebeb","strokeWidth":2.5},"encoding":{"x":{"field":"x","type":"quantitative"},"y":{"datum":-0.28,"type":"quantitative"},"y2":{"datum":7.03}}},
{"data":{"name":"b_ns"},"mark":{"type":"point","filled":true,"size":85,"opacity":0.5,"color":"#666"},"encoding":{"x":{"field":"x","type":"quantitative"},"y":{"field":"y","type":"quantitative"}}},
{"data":{"name":"b_nscore"},"mark":{"type":"point","filled":true,"size":170,"opacity":0.8,"color":"#666"},"encoding":{"x":{"field":"x","type":"quantitative"},"y":{"field":"y","type":"quantitative"}}},
{"data":{"name":"b_nscore"},"mark":{"type":"point","filled":true,"size":120,"opacity":0.8,"color":"#666"},"encoding":{"x":{"field":"x","type":"quantitative"},"y":{"field":"y","type":"quantitative"}}},
{"data":{"name":"b_down"},"mark":{"type":"point","filled":true,"size":85,"opacity":0.5,"color":"#2a5cdb"},"encoding":{"x":{"field":"x","type":"quantitative"},"y":{"field":"y","type":"quantitative"}}},
{"data":{"name":"b_up"},"mark":{"type":"point","filled":true,"size":85,"opacity":0.5,"color":"#f84a2d"},"encoding":{"x":{"field":"x","type":"quantitative"},"y":{"field":"y","type":"quantitative"}}},
{"data":{"name":"b_core"},"mark":{"type":"point","filled":true,"size":140,"opacity":0.8,"color":"#f84a2d"},"encoding":{"x":{"field":"x","type":"quantitative"},"y":{"field":"y","type":"quantitative"}}},
{"data":{"name":"b_core"},"mark":{"type":"point","filled":true,"size":100,"opacity":0.8,"color":"#f84a2d"},"encoding":{"x":{"field":"x","type":"quantitative"},"y":{"field":"y","type":"quantitative"}}},
{"data":{"values":[{"x":-0.2},{"x":0.2}]},"mark":{"type":"rule","color":"#555","strokeWidth":3,"strokeDash":[17,10]},"encoding":{"x":{"field":"x","type":"quantitative"},"y":{"datum":-0.355,"type":"quantitative"},"y2":{"datum":7.1}}},
{"data":{"values":[{"y":1.3}]},"mark":{"type":"rule","color":"#555","strokeWidth":3,"strokeDash":[17,10]},"encoding":{"y":{"field":"y","type":"quantitative"},"x":{"datum":-2.884,"type":"quantitative"},"x2":{"datum":2.888}}},
{"data":{"values":[{}]},"mark":{"type":"rect","fill":null,"stroke":"#111","strokeWidth":3},"encoding":{"x":{"datum":-2.884,"type":"quantitative"},"x2":{"datum":2.888},"y":{"datum":-0.355,"type":"quantitative"},"y2":{"datum":7.1}}},
{"data":{"values":[{"t":"b","x":-4.12,"y":7.22}]},"mark":{"type":"text","align":"left","baseline":"alphabetic","fontSize":48,"fontWeight":"bold","color":"#000"},"encoding":{"x":{"field":"x","type":"quantitative"},"y":{"field":"y","type":"quantitative"},"text":{"field":"t"}}}
]},
{"data":{"name":"heat_c"},"mark":"rect","encoding":{"x":{"field":"s","type":"nominal","scale":{"type":"band","domain":["662","673","658","660","655","680","661","654","657","656","659","664","672","674","671","663","676","667","668","669","670","678","675","677","679","666","665"],"range":[201,688.6],"paddingInner":0,"paddingOuter":0},"axis":{"title":null,"orient":"bottom","offset":-1057.7,"domain":false,"ticks":false,"labelAngle":90,"labelFontSize":14.4,"labelColor":"#444","labelPadding":8,"labelExpr":"'GSM6164'+datum.label","labelOverlap":false}},"y":{"field":"g","type":"nominal","scale":{"type":"band","domain":["VSNL1","TARBP1","CFAP221","TCERG1","CKMT1A","NELL1","SCN8A","RPH3A","PCSK1","THY1","AEBP1","SAMD4A","ANO2","SMAD6","HSPA1B","HSPA1A","SERPINH1","HSPB1","HSP90AA1","MKNK2"],"range":[975,1605.3],"paddingInner":0,"paddingOuter":0},"axis":{"title":null,"orient":"right","offset":-1192.4,"domain":false,"ticks":false,"labelFontSize":18,"labelFontWeight":"bold","labelColor":"#222","labelPadding":7,"labelOverlap":false}},"color":{"field":"v","type":"quantitative","scale":{"domain":[-4.42,0,4.42],"range":["#0040ff","#ffffff","#ff0000"],"interpolate":"rgb"},"legend":{"orient":"none","legendX":781.6,"legendY":943.4,"title":null,"gradientLength":306,"gradientThickness":20,"direction":"vertical","values":[4,2,0,-2,-4],"labelFontSize":24,"labelColor":"#333","labelOffset":8,"labelExpr":"datum.value<0?'- '+abs(datum.value):''+datum.value"}}}},
{"data":{"values":[{"s":"662","b":"Group","c":"AD"},{"s":"673","b":"Group","c":"AD"},{"s":"658","b":"Group","c":"Control"},{"s":"660","b":"Group","c":"Control"},{"s":"655","b":"Group","c":"Control"},{"s":"680","b":"Group","c":"AD"},{"s":"661","b":"Group","c":"Control"},{"s":"654","b":"Group","c":"Control"},{"s":"657","b":"Group","c":"Control"},{"s":"656","b":"Group","c":"Control"},{"s":"659","b":"Group","c":"Control"},{"s":"664","b":"Group","c":"AD"},{"s":"672","b":"Group","c":"AD"},{"s":"674","b":"Group","c":"AD"},{"s":"671","b":"Group","c":"AD"},{"s":"663","b":"Group","c":"AD"},{"s":"676","b":"Group","c":"AD"},{"s":"667","b":"Group","c":"AD"},{"s":"668","b":"Group","c":"AD"},{"s":"669","b":"Group","c":"AD"},{"s":"670","b":"Group","c":"AD"},{"s":"678","b":"Group","c":"AD"},{"s":"675","b":"Group","c":"AD"},{"s":"677","b":"Group","c":"AD"},{"s":"679","b":"Group","c":"AD"},{"s":"666","b":"Group","c":"AD"},{"s":"665","b":"Group","c":"AD"}]},"mark":"rect","encoding":{"x":{"field":"s","type":"nominal","scale":{"type":"band","domain":["662","673","658","660","655","680","661","654","657","656","659","664","672","674","671","663","676","667","668","669","670","678","675","677","679","666","665"],"range":[201,688.6],"paddingInner":0,"paddingOuter":0},"axis":null},"y":{"field":"b","type":"nominal","scale":{"type":"band","domain":["Group"],"range":[945,970.4],"paddingInner":0,"paddingOuter":0},"axis":{"title":null,"orient":"right","offset":-1192.4,"domain":false,"ticks":false,"labelFontSize":24,"labelFontWeight":"bold","labelColor":"#222","labelPadding":7}},"color":{"field":"c","type":"nominal","scale":{"domain":["AD","Control"],"range":["#00dae0","#ff9289"]},"legend":{"orient":"none","legendX":851,"legendY":940,"title":"Group","titleFontSize":24,"titleFontWeight":"bold","titleColor":"#222","titlePadding":6,"symbolType":"square","symbolSize":1225,"symbolStrokeWidth":0,"symbolOpacity":1,"labelFontSize":23,"labelColor":"#333","labelOffset":8,"rowPadding":0}}}},
{"layer":[
{"data":{"name":"c_row"},"mark":{"type":"rule","color":"#333","strokeWidth":2},"encoding":{"x":{"field":"h","type":"quantitative","scale":{"domain":[0,188],"range":[201,93],"nice":false,"zero":false},"axis":null},"y":{"field":"l","type":"quantitative","scale":{"domain":[0.5,20.5],"range":[975,1605.3],"nice":false,"zero":false},"axis":null},"y2":{"field":"r"}}},
{"data":{"name":"c_row"},"mark":{"type":"rule","color":"#333","strokeWidth":2},"encoding":{"x":{"field":"hl","type":"quantitative","axis":null},"x2":{"field":"h"},"y":{"field":"l","type":"quantitative","axis":null}}},
{"data":{"name":"c_row"},"mark":{"type":"rule","color":"#333","strokeWidth":2},"encoding":{"x":{"field":"hr","type":"quantitative","axis":null},"x2":{"field":"h"},"y":{"field":"r","type":"quantitative","axis":null}}},
{"data":{"values":[{"x0":63,"x1":-969,"y0":7.33,"y1":8.66},{"x0":63,"x1":-969,"y0":17.31,"y1":18.63}]},"mark":{"type":"rect","fill":null,"stroke":"#e8202a","strokeWidth":2.5,"strokeDash":[6,3]},"encoding":{"x":{"field":"x0","type":"quantitative","axis":null},"x2":{"field":"x1"},"y":{"field":"y0","type":"quantitative","axis":null},"y2":{"field":"y1"}}}
]},
{"layer":[
{"data":{"name":"c_col"},"mark":{"type":"rule","color":"#333","strokeWidth":2},"encoding":{"y":{"field":"h","type":"quantitative","scale":{"domain":[0,187],"range":[943,836],"nice":false,"zero":false},"axis":null},"x":{"field":"l","type":"quantitative","scale":{"domain":[0.5,27.5],"range":[201,688.6],"nice":false,"zero":false},"axis":null},"x2":{"field":"r"}}},
{"data":{"name":"c_col"},"mark":{"type":"rule","color":"#333","strokeWidth":2},"encoding":{"y":{"field":"hl","type":"quantitative","axis":null},"y2":{"field":"h"},"x":{"field":"l","type":"quantitative","axis":null}}},
{"data":{"name":"c_col"},"mark":{"type":"rule","color":"#333","strokeWidth":2},"encoding":{"y":{"field":"hr","type":"quantitative","axis":null},"y2":{"field":"h"},"x":{"field":"r","type":"quantitative","axis":null}}},
{"data":{"values":[{"t":"c","x":-10.35,"h":94.4}]},"mark":{"type":"text","align":"left","baseline":"alphabetic","fontSize":48,"fontWeight":"bold","color":"#000"},"encoding":{"x":{"field":"x","type":"quantitative","axis":null},"y":{"field":"h","type":"quantitative","axis":null},"text":{"field":"t"}}}
]},
{"data":{"name":"heat_d"},"mark":"rect","encoding":{"x":{"field":"s","type":"nominal","scale":{"type":"band","domain":["206","204","219","205","203","220","218","217","228","213","211","212","226","225","227"],"range":[1107.4,1607.4],"paddingInner":0,"paddingOuter":0},"axis":{"title":null,"orient":"bottom","offset":-1083.5,"domain":false,"ticks":false,"labelAngle":90,"labelFontSize":14.2,"labelColor":"#444","labelPadding":8,"labelExpr":"'GSM572'+datum.label","labelOverlap":false}},"y":{"field":"g","type":"nominal","scale":{"type":"band","domain":["Ache","Emp2","Ccl4","Tubb4a","Sult1a","Aacs","P2ry13","Timp1","S100a8","Serpina3n","Fmo1","Slc40a1","Etv4","Lcn2","Mt1","Ccdc184","Fam107a","Ly6a","Lgals3"],"range":[978,1579.5],"paddingInner":0,"paddingOuter":0},"axis":{"title":null,"orient":"right","offset":-273.6,"domain":false,"ticks":false,"labelFontSize":18,"labelFontWeight":"bold","labelColor":"#222","labelPadding":7,"labelOverlap":false}},"color":{"field":"v","type":"quantitative","scale":{"domain":[-3.24,0,3.24],"range":["#0040ff","#ffffff","#ff0000"],"interpolate":"rgb"},"legend":{"orient":"none","legendX":1695,"legendY":943.4,"title":null,"gradientLength":307,"gradientThickness":21,"direction":"vertical","values":[3,2,1,0,-1,-2,-3],"labelFontSize":24,"labelColor":"#333","labelOffset":8,"labelExpr":"datum.value<0?'- '+abs(datum.value):''+datum.value"}}}},
{"data":{"values":[{"s":"206","b":"Group","c":"Sham"},{"s":"204","b":"Group","c":"Sham"},{"s":"219","b":"Group","c":"Sham"},{"s":"205","b":"Group","c":"Sham"},{"s":"203","b":"Group","c":"Sham"},{"s":"220","b":"Group","c":"Sham"},{"s":"218","b":"Group","c":"Sham"},{"s":"217","b":"Group","c":"Sham"},{"s":"228","b":"Group","c":"nHIBD"},{"s":"213","b":"Group","c":"nHIBD"},{"s":"211","b":"Group","c":"nHIBD"},{"s":"212","b":"Group","c":"nHIBD"},{"s":"226","b":"Group","c":"nHIBD"},{"s":"225","b":"Group","c":"nHIBD"},{"s":"227","b":"Group","c":"nHIBD"}]},"mark":"rect","encoding":{"x":{"field":"s","type":"nominal","scale":{"type":"band","domain":["206","204","219","205","203","220","218","217","228","213","211","212","226","225","227"],"range":[1107.4,1607.4],"paddingInner":0,"paddingOuter":0},"axis":null},"y":{"field":"b","type":"nominal","scale":{"type":"band","domain":["Group"],"range":[946,969.8],"paddingInner":0,"paddingOuter":0},"axis":{"title":null,"orient":"right","offset":-273.6,"domain":false,"ticks":false,"labelFontSize":24,"labelFontWeight":"bold","labelColor":"#222","labelPadding":7}},"color":{"field":"c","type":"nominal","scale":{"domain":["nHIBD","Sham"],"range":["#00dae0","#ff9289"]},"legend":{"orient":"none","legendX":1766,"legendY":940,"title":"Group","titleFontSize":24,"titleFontWeight":"bold","titleColor":"#222","titlePadding":6,"symbolType":"square","symbolSize":1225,"symbolStrokeWidth":0,"symbolOpacity":1,"labelFontSize":23,"labelColor":"#333","labelOffset":8,"rowPadding":0}}}},
{"layer":[
{"data":{"name":"d_row"},"mark":{"type":"rule","color":"#333","strokeWidth":2},"encoding":{"x":{"field":"h","type":"quantitative","scale":{"domain":[0,187],"range":[1107.4,1000],"nice":false,"zero":false},"axis":null},"y":{"field":"l","type":"quantitative","scale":{"domain":[0.5,19.5],"range":[978,1579.5],"nice":false,"zero":false},"axis":null},"y2":{"field":"r"}}},
{"data":{"name":"d_row"},"mark":{"type":"rule","color":"#333","strokeWidth":2},"encoding":{"x":{"field":"hl","type":"quantitative","axis":null},"x2":{"field":"h"},"y":{"field":"l","type":"quantitative","axis":null}}},
{"data":{"name":"d_row"},"mark":{"type":"rule","color":"#333","strokeWidth":2},"encoding":{"x":{"field":"hr","type":"quantitative","axis":null},"x2":{"field":"h"},"y":{"field":"r","type":"quantitative","axis":null}}},
{"data":{"values":[{"x0":39,"x1":-991,"y0":3.36,"y1":4.66},{"x0":39,"x1":-991,"y0":5.27,"y1":6.58}]},"mark":{"type":"rect","fill":null,"stroke":"#e8202a","strokeWidth":2.5,"strokeDash":[6,3]},"encoding":{"x":{"field":"x0","type":"quantitative","axis":null},"x2":{"field":"x1"},"y":{"field":"y0","type":"quantitative","axis":null},"y2":{"field":"y1"}}}
]},
{"layer":[
{"data":{"name":"d_col"},"mark":{"type":"rule","color":"#333","strokeWidth":2},"encoding":{"y":{"field":"h","type":"quantitative","scale":{"domain":[0,196],"range":[944,836.5],"nice":false,"zero":false},"axis":null},"x":{"field":"l","type":"quantitative","scale":{"domain":[0.5,15.5],"range":[1107.4,1607.4],"nice":false,"zero":false},"axis":null},"x2":{"field":"r"}}},
{"data":{"name":"d_col"},"mark":{"type":"rule","color":"#333","strokeWidth":2},"encoding":{"y":{"field":"hl","type":"quantitative","axis":null},"y2":{"field":"h"},"x":{"field":"l","type":"quantitative","axis":null}}},
{"data":{"name":"d_col"},"mark":{"type":"rule","color":"#333","strokeWidth":2},"encoding":{"y":{"field":"hr","type":"quantitative","axis":null},"y2":{"field":"h"},"x":{"field":"r","type":"quantitative","axis":null}}},
{"data":{"values":[{"t":"d","x":-4.34,"h":100}]},"mark":{"type":"text","align":"left","baseline":"alphabetic","fontSize":48,"fontWeight":"bold","color":"#000"},"encoding":{"x":{"field":"x","type":"quantitative","axis":null},"y":{"field":"h","type":"quantitative","axis":null},"text":{"field":"t"}}}
]},
{"layer":[
{"data":{"name":"v_blue"},"mark":{"type":"line","interpolate":"linear-closed","order":null,"fill":"#1f7ade","fillOpacity":0.24,"stroke":"#6e8fc0","strokeWidth":2},"encoding":{"x":{"field":"x","type":"quantitative","scale":{"domain":[-850,1031],"range":[0,1881],"nice":false,"zero":false},"axis":null},"y":{"field":"y","type":"quantitative","scale":{"domain":[-2250,413],"range":[0,2663],"nice":false,"zero":false},"axis":null}}},
{"data":{"name":"v_yellow"},"mark":{"type":"line","interpolate":"linear-closed","order":null,"fill":"#ffff00","fillOpacity":0.42,"stroke":"#f5f57a","strokeWidth":2},"encoding":{"x":{"field":"x","type":"quantitative","axis":null},"y":{"field":"y","type":"quantitative","axis":null}}},
{"data":{"name":"v_pink"},"mark":{"type":"line","interpolate":"linear-closed","order":null,"fill":"#e0305a","fillOpacity":0.24,"stroke":"#e06078","strokeWidth":2},"encoding":{"x":{"field":"x","type":"quantitative","axis":null},"y":{"field":"y","type":"quantitative","axis":null}}},
{"data":{"name":"v_orange"},"mark":{"type":"line","interpolate":"linear-closed","order":null,"fill":"#ffa500","fillOpacity":0.38,"stroke":"#f5a64a","strokeWidth":2},"encoding":{"x":{"field":"x","type":"quantitative","axis":null},"y":{"field":"y","type":"quantitative","axis":null}}},
{"data":{"values":[{"t":"2596","x":-379.9,"y":-188.4},{"t":"25","x":-113.5,"y":-324.6},{"t":"297","x":136,"y":-341},{"t":"10","x":-217.6,"y":-221.3},{"t":"0","x":1.4,"y":-208.4},{"t":"2","x":234,"y":-234.2},{"t":"27","x":381.4,"y":-194.3},{"t":"0","x":-113.5,"y":-106.2},{"t":"0","x":104.2,"y":-106.2},{"t":"35","x":-233.9,"y":13.5},{"t":"0","x":1.4,"y":8.8},{"t":"0","x":213.8,"y":13.5},{"t":"0","x":-124.3,"y":115.6},{"t":"0","x":100.2,"y":115.6},{"t":"0","x":-11.4,"y":236.5},{"t":"DOWN-nHIBD","x":-115.5,"y":-445},{"t":"UP-nHIBD","x":236,"y":-443.6},{"t":"DOWN-AD","x":-527.4,"y":-336},{"t":"UP-AD","x":534,"y":-336}]},"mark":{"type":"text","fontSize":38,"fontWeight":"bold","color":"#111","baseline":"middle"},"encoding":{"x":{"field":"x","type":"quantitative","axis":null},"y":{"field":"y","type":"quantitative","axis":null},"text":{"field":"t"}}},
{"data":{"values":[{"t":"e","x":-466,"y":-452}]},"mark":{"type":"text","fontSize":48,"fontWeight":"bold","color":"#000","align":"center","baseline":"alphabetic"},"encoding":{"x":{"field":"x","type":"quantitative","axis":null},"y":{"field":"y","type":"quantitative","axis":null},"text":{"field":"t"}}}
]}
],
"resolve":{"scale":{"x":"independent","y":"independent","color":"independent"},"axis":{"x":"independent","y":"independent"},"legend":{"color":"independent"}}}
